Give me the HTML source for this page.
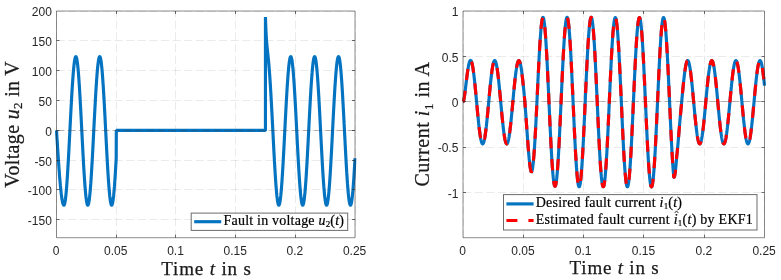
<!DOCTYPE html>
<html><head><meta charset="utf-8"><title>Fault plots</title>
<style>
html,body{margin:0;padding:0;background:#fff;}
body{width:781px;height:280px;overflow:hidden;}
svg{display:block;will-change:transform;}
text{fill:#262626;}
.tk{font-family:"Liberation Sans",sans-serif;font-size:12px;}
.lg{font-family:"Liberation Serif",serif;font-size:14px;fill:#000;stroke:#000;stroke-width:0.2px;}
.lb{font-family:"Liberation Serif",serif;font-size:19px;fill:#1a1a1a;stroke:#1a1a1a;stroke-width:0.25px;}
.yl{font-size:20px;}
.it{font-style:italic;}
.sub{font-size:9px;}
.sub2{font-size:13px;}
</style></head><body>
<svg width="781" height="280" viewBox="0 0 781 280">
<rect width="781" height="280" fill="#fff"/>
<path d="M56.50 237.70V11.00M116.50 237.70V11.00M175.50 237.70V11.00M235.50 237.70V11.00M295.50 237.70V11.00M355.50 237.70V11.00M56.50 219.50H355.00M56.50 189.50H355.00M56.50 160.50H355.00M56.50 130.50H355.00M56.50 100.50H355.00M56.50 70.50H355.00M56.50 40.50H355.00M56.50 11.50H355.00" stroke="#262626" stroke-opacity="0.095" stroke-width="1.0" stroke-dasharray="8.2 3.4" fill="none"/>
<clipPath id="cl"><rect x="54.9" y="9.4" width="301.7" height="229.89999999999998"/></clipPath>
<path d="M56.50 130.32L56.62 132.22L56.74 134.12L56.86 136.02L56.98 137.91L57.10 139.80L57.22 141.68L57.34 143.56L57.46 145.43L57.57 147.28L57.69 149.13L57.81 150.97L57.93 152.79L58.05 154.60L58.17 156.39L58.29 158.17L58.41 159.92L58.53 161.66L58.65 163.38L58.77 165.08L58.89 166.76L59.01 168.41L59.13 170.04L59.25 171.65L59.37 173.22L59.48 174.77L59.60 176.30L59.72 177.79L59.84 179.25L59.96 180.68L60.08 182.08L60.20 183.43L60.32 184.75L60.44 186.02L60.56 187.27L60.68 188.48L60.80 189.65L60.92 190.78L61.04 191.87L61.16 192.93L61.28 193.94L61.40 194.92L61.51 195.85L61.63 196.75L61.75 197.60L61.87 198.40L61.99 199.17L62.11 199.89L62.23 200.56L62.35 201.19L62.47 201.78L62.59 202.32L62.71 202.82L62.83 203.26L62.95 203.67L63.07 204.02L63.19 204.33L63.31 204.59L63.43 204.81L63.54 204.97L63.66 205.09L63.78 205.16L63.90 205.19L64.02 205.15L64.14 205.04L64.26 204.86L64.38 204.60L64.50 204.27L64.62 203.87L64.74 203.40L64.86 202.85L64.98 202.24L65.10 201.55L65.22 200.80L65.34 199.97L65.45 199.08L65.57 198.12L65.69 197.09L65.81 196.00L65.93 194.84L66.05 193.62L66.17 192.34L66.29 191.00L66.41 189.60L66.53 188.14L66.65 186.63L66.77 185.06L66.89 183.43L67.01 181.76L67.13 180.03L67.25 178.26L67.37 176.44L67.48 174.57L67.60 172.66L67.72 170.71L67.84 168.72L67.96 166.69L68.08 164.63L68.20 162.54L68.32 160.41L68.44 158.25L68.56 156.07L68.68 153.86L68.80 151.63L68.92 149.38L69.04 147.11L69.16 144.83L69.28 142.53L69.40 140.22L69.51 137.90L69.63 135.58L69.75 133.25L69.87 130.91L69.99 128.58L70.11 126.25L70.23 123.92L70.35 121.60L70.47 119.29L70.59 116.99L70.71 114.71L70.83 112.44L70.95 110.19L71.07 107.96L71.19 105.75L71.31 103.57L71.42 101.41L71.54 99.29L71.66 97.19L71.78 95.13L71.90 93.10L72.02 91.11L72.14 89.16L72.26 87.26L72.38 85.39L72.50 83.57L72.62 81.79L72.74 80.07L72.86 78.39L72.98 76.77L73.10 75.20L73.22 73.68L73.34 72.22L73.45 70.82L73.57 69.48L73.69 68.20L73.81 66.98L73.93 65.83L74.05 64.73L74.17 63.71L74.29 62.75L74.41 61.85L74.53 61.03L74.65 60.27L74.77 59.59L74.89 58.97L75.01 58.43L75.13 57.95L75.25 57.55L75.37 57.22L75.48 56.97L75.60 56.78L75.72 56.67L75.84 56.64L75.96 56.67L76.08 56.78L76.20 56.97L76.32 57.22L76.44 57.55L76.56 57.95L76.68 58.43L76.80 58.97L76.92 59.59L77.04 60.27L77.16 61.03L77.28 61.85L77.40 62.75L77.51 63.71L77.63 64.73L77.75 65.83L77.87 66.98L77.99 68.20L78.11 69.48L78.23 70.82L78.35 72.22L78.47 73.68L78.59 75.20L78.71 76.77L78.83 78.39L78.95 80.07L79.07 81.79L79.19 83.57L79.31 85.39L79.42 87.26L79.54 89.16L79.66 91.11L79.78 93.10L79.90 95.13L80.02 97.19L80.14 99.29L80.26 101.41L80.38 103.57L80.50 105.75L80.62 107.96L80.74 110.19L80.86 112.44L80.98 114.71L81.10 116.99L81.22 119.29L81.34 121.60L81.45 123.92L81.57 126.25L81.69 128.58L81.81 130.91L81.93 133.25L82.05 135.58L82.17 137.90L82.29 140.22L82.41 142.53L82.53 144.83L82.65 147.11L82.77 149.38L82.89 151.63L83.01 153.86L83.13 156.07L83.25 158.25L83.37 160.41L83.48 162.54L83.60 164.63L83.72 166.69L83.84 168.72L83.96 170.71L84.08 172.66L84.20 174.57L84.32 176.44L84.44 178.26L84.56 180.03L84.68 181.76L84.80 183.43L84.92 185.06L85.04 186.63L85.16 188.14L85.28 189.60L85.39 191.00L85.51 192.34L85.63 193.62L85.75 194.84L85.87 196.00L85.99 197.09L86.11 198.12L86.23 199.08L86.35 199.97L86.47 200.80L86.59 201.55L86.71 202.24L86.83 202.85L86.95 203.40L87.07 203.87L87.19 204.27L87.31 204.60L87.42 204.86L87.54 205.04L87.66 205.15L87.78 205.19L87.90 205.15L88.02 205.04L88.14 204.86L88.26 204.60L88.38 204.27L88.50 203.87L88.62 203.40L88.74 202.85L88.86 202.24L88.98 201.55L89.10 200.80L89.22 199.97L89.34 199.08L89.45 198.12L89.57 197.09L89.69 196.00L89.81 194.84L89.93 193.62L90.05 192.34L90.17 191.00L90.29 189.60L90.41 188.14L90.53 186.63L90.65 185.06L90.77 183.43L90.89 181.76L91.01 180.03L91.13 178.26L91.25 176.44L91.36 174.57L91.48 172.66L91.60 170.71L91.72 168.72L91.84 166.69L91.96 164.63L92.08 162.54L92.20 160.41L92.32 158.25L92.44 156.07L92.56 153.86L92.68 151.63L92.80 149.38L92.92 147.11L93.04 144.83L93.16 142.53L93.28 140.22L93.39 137.90L93.51 135.58L93.63 133.25L93.75 130.91L93.87 128.58L93.99 126.25L94.11 123.92L94.23 121.60L94.35 119.29L94.47 116.99L94.59 114.71L94.71 112.44L94.83 110.19L94.95 107.96L95.07 105.75L95.19 103.57L95.31 101.41L95.42 99.29L95.54 97.19L95.66 95.13L95.78 93.10L95.90 91.11L96.02 89.16L96.14 87.26L96.26 85.39L96.38 83.57L96.50 81.79L96.62 80.07L96.74 78.39L96.86 76.77L96.98 75.20L97.10 73.68L97.22 72.22L97.33 70.82L97.45 69.48L97.57 68.20L97.69 66.98L97.81 65.83L97.93 64.73L98.05 63.71L98.17 62.75L98.29 61.85L98.41 61.03L98.53 60.27L98.65 59.59L98.77 58.97L98.89 58.43L99.01 57.95L99.13 57.55L99.25 57.22L99.36 56.97L99.48 56.78L99.60 56.67L99.72 56.64L99.84 56.67L99.96 56.78L100.08 56.97L100.20 57.22L100.32 57.55L100.44 57.95L100.56 58.43L100.68 58.97L100.80 59.59L100.92 60.27L101.04 61.03L101.16 61.85L101.28 62.75L101.39 63.71L101.51 64.73L101.63 65.83L101.75 66.98L101.87 68.20L101.99 69.48L102.11 70.82L102.23 72.22L102.35 73.68L102.47 75.20L102.59 76.77L102.71 78.39L102.83 80.07L102.95 81.79L103.07 83.57L103.19 85.39L103.30 87.26L103.42 89.16L103.54 91.11L103.66 93.10L103.78 95.13L103.90 97.19L104.02 99.29L104.14 101.41L104.26 103.57L104.38 105.75L104.50 107.96L104.62 110.19L104.74 112.44L104.86 114.71L104.98 116.99L105.10 119.29L105.22 121.60L105.33 123.92L105.45 126.25L105.57 128.58L105.69 130.91L105.81 133.25L105.93 135.58L106.05 137.90L106.17 140.22L106.29 142.53L106.41 144.83L106.53 147.11L106.65 149.38L106.77 151.63L106.89 153.86L107.01 156.07L107.13 158.25L107.25 160.41L107.36 162.54L107.48 164.63L107.60 166.69L107.72 168.72L107.84 170.71L107.96 172.66L108.08 174.57L108.20 176.44L108.32 178.26L108.44 180.03L108.56 181.76L108.68 183.43L108.80 185.06L108.92 186.63L109.04 188.14L109.16 189.60L109.27 191.00L109.39 192.34L109.51 193.62L109.63 194.84L109.75 196.00L109.87 197.09L109.99 198.12L110.11 199.08L110.23 199.97L110.35 200.80L110.47 201.55L110.59 202.24L110.71 202.85L110.83 203.40L110.95 203.87L111.07 204.27L111.19 204.60L111.30 204.86L111.42 205.04L111.54 205.15L111.66 205.19L111.78 205.15L111.90 205.04L112.02 204.86L112.14 204.60L112.26 204.27L112.38 203.87L112.50 203.40L112.62 202.85L112.74 202.24L112.86 201.55L112.98 200.80L113.10 199.97L113.22 199.08L113.33 198.12L113.45 197.09L113.57 196.00L113.69 194.84L113.81 193.62L113.93 192.34L114.05 191.00L114.17 189.60L114.29 188.14L114.41 186.63L114.53 185.06L114.65 183.43L114.77 181.76L114.89 180.03L115.01 178.26L115.13 176.44L115.24 174.57L115.36 172.66L115.48 170.71L115.60 168.72L115.72 166.69L115.84 164.63L115.96 162.54L116.08 160.41L116.20 158.25L116.32 130.44L265.45 130.44L265.45 16.97L265.57 20.86L265.69 24.33L265.81 27.42L265.93 30.19L266.05 32.67L266.17 34.91L266.29 36.93L266.41 38.77L266.52 40.45L266.64 42.01L266.76 43.45L266.88 44.81L267.00 46.09L267.12 47.31L267.24 48.49L267.36 49.64L267.48 50.76L267.60 51.88L267.72 52.99L267.84 54.11L267.96 55.23L268.08 56.38L268.20 57.54L268.32 58.74L268.43 59.96L268.55 61.21L268.67 62.50L268.79 63.83L268.91 65.19L269.03 66.60L269.15 68.05L269.27 69.54L269.39 71.08L269.51 72.66L269.63 74.28L269.75 75.95L269.87 77.66L269.99 79.41L270.11 81.20L270.23 83.04L270.35 84.92L270.46 86.83L270.58 88.79L270.70 90.78L270.82 92.80L270.94 94.86L271.06 96.95L271.18 99.07L271.30 101.22L271.42 103.40L271.54 105.60L271.66 107.82L271.78 110.07L271.90 112.33L272.02 114.61L272.14 116.91L272.26 119.21L272.38 121.53L272.49 123.86L272.61 126.19L272.73 128.53L272.85 130.87L272.97 133.20L273.09 135.54L273.21 137.87L273.33 140.19L273.45 142.51L273.57 144.81L273.69 147.09L273.81 149.36L273.93 151.62L274.05 153.85L274.17 156.06L274.29 158.24L274.40 160.40L274.52 162.53L274.64 164.62L274.76 166.69L274.88 168.71L275.00 170.70L275.12 172.66L275.24 174.56L275.36 176.43L275.48 178.25L275.60 180.03L275.72 181.75L275.84 183.43L275.96 185.05L276.08 186.62L276.20 188.14L276.32 189.60L276.43 191.00L276.55 192.34L276.67 193.62L276.79 194.84L276.91 196.00L277.03 197.09L277.15 198.12L277.27 199.08L277.39 199.97L277.51 200.79L277.63 201.55L277.75 202.24L277.87 202.85L277.99 203.40L278.11 203.87L278.23 204.27L278.35 204.60L278.46 204.86L278.58 205.04L278.70 205.15L278.82 205.19L278.94 205.15L279.06 205.04L279.18 204.86L279.30 204.60L279.42 204.27L279.54 203.87L279.66 203.40L279.78 202.85L279.90 202.24L280.02 201.55L280.14 200.80L280.26 199.97L280.37 199.08L280.49 198.12L280.61 197.09L280.73 196.00L280.85 194.84L280.97 193.62L281.09 192.34L281.21 191.00L281.33 189.60L281.45 188.14L281.57 186.63L281.69 185.06L281.81 183.43L281.93 181.76L282.05 180.03L282.17 178.26L282.29 176.44L282.40 174.57L282.52 172.66L282.64 170.71L282.76 168.72L282.88 166.69L283.00 164.63L283.12 162.54L283.24 160.41L283.36 158.25L283.48 156.07L283.60 153.86L283.72 151.63L283.84 149.38L283.96 147.11L284.08 144.83L284.20 142.53L284.32 140.22L284.43 137.90L284.55 135.58L284.67 133.25L284.79 130.91L284.91 128.58L285.03 126.25L285.15 123.92L285.27 121.60L285.39 119.29L285.51 116.99L285.63 114.71L285.75 112.44L285.87 110.19L285.99 107.96L286.11 105.75L286.23 103.57L286.34 101.41L286.46 99.29L286.58 97.19L286.70 95.13L286.82 93.10L286.94 91.11L287.06 89.16L287.18 87.26L287.30 85.39L287.42 83.57L287.54 81.79L287.66 80.07L287.78 78.39L287.90 76.77L288.02 75.20L288.14 73.68L288.26 72.22L288.37 70.82L288.49 69.48L288.61 68.20L288.73 66.98L288.85 65.83L288.97 64.73L289.09 63.71L289.21 62.75L289.33 61.85L289.45 61.03L289.57 60.27L289.69 59.59L289.81 58.97L289.93 58.43L290.05 57.95L290.17 57.55L290.29 57.22L290.40 56.97L290.52 56.78L290.64 56.67L290.76 56.64L290.88 56.67L291.00 56.78L291.12 56.97L291.24 57.22L291.36 57.55L291.48 57.95L291.60 58.43L291.72 58.97L291.84 59.59L291.96 60.27L292.08 61.03L292.20 61.85L292.31 62.75L292.43 63.71L292.55 64.73L292.67 65.83L292.79 66.98L292.91 68.20L293.03 69.48L293.15 70.82L293.27 72.22L293.39 73.68L293.51 75.20L293.63 76.77L293.75 78.39L293.87 80.07L293.99 81.79L294.11 83.57L294.23 85.39L294.34 87.26L294.46 89.16L294.58 91.11L294.70 93.10L294.82 95.13L294.94 97.19L295.06 99.29L295.18 101.41L295.30 103.57L295.42 105.75L295.54 107.96L295.66 110.19L295.78 112.44L295.90 114.71L296.02 116.99L296.14 119.29L296.26 121.60L296.37 123.92L296.49 126.25L296.61 128.58L296.73 130.91L296.85 133.25L296.97 135.58L297.09 137.90L297.21 140.22L297.33 142.53L297.45 144.83L297.57 147.11L297.69 149.38L297.81 151.63L297.93 153.86L298.05 156.07L298.17 158.25L298.28 160.41L298.40 162.54L298.52 164.63L298.64 166.69L298.76 168.72L298.88 170.71L299.00 172.66L299.12 174.57L299.24 176.44L299.36 178.26L299.48 180.03L299.60 181.76L299.72 183.43L299.84 185.06L299.96 186.63L300.08 188.14L300.20 189.60L300.31 191.00L300.43 192.34L300.55 193.62L300.67 194.84L300.79 196.00L300.91 197.09L301.03 198.12L301.15 199.08L301.27 199.97L301.39 200.80L301.51 201.55L301.63 202.24L301.75 202.85L301.87 203.40L301.99 203.87L302.11 204.27L302.23 204.60L302.34 204.86L302.46 205.04L302.58 205.15L302.70 205.19L302.82 205.15L302.94 205.04L303.06 204.86L303.18 204.60L303.30 204.27L303.42 203.87L303.54 203.40L303.66 202.85L303.78 202.24L303.90 201.55L304.02 200.80L304.14 199.97L304.25 199.08L304.37 198.12L304.49 197.09L304.61 196.00L304.73 194.84L304.85 193.62L304.97 192.34L305.09 191.00L305.21 189.60L305.33 188.14L305.45 186.63L305.57 185.06L305.69 183.43L305.81 181.76L305.93 180.03L306.05 178.26L306.17 176.44L306.28 174.57L306.40 172.66L306.52 170.71L306.64 168.72L306.76 166.69L306.88 164.63L307.00 162.54L307.12 160.41L307.24 158.25L307.36 156.07L307.48 153.86L307.60 151.63L307.72 149.38L307.84 147.11L307.96 144.83L308.08 142.53L308.20 140.22L308.31 137.90L308.43 135.58L308.55 133.25L308.67 130.91L308.79 128.58L308.91 126.25L309.03 123.92L309.15 121.60L309.27 119.29L309.39 116.99L309.51 114.71L309.63 112.44L309.75 110.19L309.87 107.96L309.99 105.75L310.11 103.57L310.22 101.41L310.34 99.29L310.46 97.19L310.58 95.13L310.70 93.10L310.82 91.11L310.94 89.16L311.06 87.26L311.18 85.39L311.30 83.57L311.42 81.79L311.54 80.07L311.66 78.39L311.78 76.77L311.90 75.20L312.02 73.68L312.14 72.22L312.25 70.82L312.37 69.48L312.49 68.20L312.61 66.98L312.73 65.83L312.85 64.73L312.97 63.71L313.09 62.75L313.21 61.85L313.33 61.03L313.45 60.27L313.57 59.59L313.69 58.97L313.81 58.43L313.93 57.95L314.05 57.55L314.17 57.22L314.28 56.97L314.40 56.78L314.52 56.67L314.64 56.64L314.76 56.67L314.88 56.78L315.00 56.97L315.12 57.22L315.24 57.55L315.36 57.95L315.48 58.43L315.60 58.97L315.72 59.59L315.84 60.27L315.96 61.03L316.08 61.85L316.19 62.75L316.31 63.71L316.43 64.73L316.55 65.83L316.67 66.98L316.79 68.20L316.91 69.48L317.03 70.82L317.15 72.22L317.27 73.68L317.39 75.20L317.51 76.77L317.63 78.39L317.75 80.07L317.87 81.79L317.99 83.57L318.11 85.39L318.22 87.26L318.34 89.16L318.46 91.11L318.58 93.10L318.70 95.13L318.82 97.19L318.94 99.29L319.06 101.41L319.18 103.57L319.30 105.75L319.42 107.96L319.54 110.19L319.66 112.44L319.78 114.71L319.90 116.99L320.02 119.29L320.14 121.60L320.25 123.92L320.37 126.25L320.49 128.58L320.61 130.91L320.73 133.25L320.85 135.58L320.97 137.90L321.09 140.22L321.21 142.53L321.33 144.83L321.45 147.11L321.57 149.38L321.69 151.63L321.81 153.86L321.93 156.07L322.05 158.25L322.16 160.41L322.28 162.54L322.40 164.63L322.52 166.69L322.64 168.72L322.76 170.71L322.88 172.66L323.00 174.57L323.12 176.44L323.24 178.26L323.36 180.03L323.48 181.76L323.60 183.43L323.72 185.06L323.84 186.63L323.96 188.14L324.08 189.60L324.19 191.00L324.31 192.34L324.43 193.62L324.55 194.84L324.67 196.00L324.79 197.09L324.91 198.12L325.03 199.08L325.15 199.97L325.27 200.80L325.39 201.55L325.51 202.24L325.63 202.85L325.75 203.40L325.87 203.87L325.99 204.27L326.11 204.60L326.22 204.86L326.34 205.04L326.46 205.15L326.58 205.19L326.70 205.15L326.82 205.04L326.94 204.86L327.06 204.60L327.18 204.27L327.30 203.87L327.42 203.40L327.54 202.85L327.66 202.24L327.78 201.55L327.90 200.80L328.02 199.97L328.13 199.08L328.25 198.12L328.37 197.09L328.49 196.00L328.61 194.84L328.73 193.62L328.85 192.34L328.97 191.00L329.09 189.60L329.21 188.14L329.33 186.63L329.45 185.06L329.57 183.43L329.69 181.76L329.81 180.03L329.93 178.26L330.05 176.44L330.16 174.57L330.28 172.66L330.40 170.71L330.52 168.72L330.64 166.69L330.76 164.63L330.88 162.54L331.00 160.41L331.12 158.25L331.24 156.07L331.36 153.86L331.48 151.63L331.60 149.38L331.72 147.11L331.84 144.83L331.96 142.53L332.08 140.22L332.19 137.90L332.31 135.58L332.43 133.25L332.55 130.91L332.67 128.58L332.79 126.25L332.91 123.92L333.03 121.60L333.15 119.29L333.27 116.99L333.39 114.71L333.51 112.44L333.63 110.19L333.75 107.96L333.87 105.75L333.99 103.57L334.10 101.41L334.22 99.29L334.34 97.19L334.46 95.13L334.58 93.10L334.70 91.11L334.82 89.16L334.94 87.26L335.06 85.39L335.18 83.57L335.30 81.79L335.42 80.07L335.54 78.39L335.66 76.77L335.78 75.20L335.90 73.68L336.02 72.22L336.13 70.82L336.25 69.48L336.37 68.20L336.49 66.98L336.61 65.83L336.73 64.73L336.85 63.71L336.97 62.75L337.09 61.85L337.21 61.03L337.33 60.27L337.45 59.59L337.57 58.97L337.69 58.43L337.81 57.95L337.93 57.55L338.05 57.22L338.16 56.97L338.28 56.78L338.40 56.67L338.52 56.64L338.64 56.67L338.76 56.78L338.88 56.97L339.00 57.22L339.12 57.55L339.24 57.95L339.36 58.43L339.48 58.97L339.60 59.59L339.72 60.27L339.84 61.03L339.96 61.85L340.07 62.75L340.19 63.71L340.31 64.73L340.43 65.83L340.55 66.98L340.67 68.20L340.79 69.48L340.91 70.82L341.03 72.22L341.15 73.68L341.27 75.20L341.39 76.77L341.51 78.39L341.63 80.07L341.75 81.79L341.87 83.57L341.99 85.39L342.10 87.26L342.22 89.16L342.34 91.11L342.46 93.10L342.58 95.13L342.70 97.19L342.82 99.29L342.94 101.41L343.06 103.57L343.18 105.75L343.30 107.96L343.42 110.19L343.54 112.44L343.66 114.71L343.78 116.99L343.90 119.29L344.02 121.60L344.13 123.92L344.25 126.25L344.37 128.58L344.49 130.91L344.61 133.25L344.73 135.58L344.85 137.90L344.97 140.22L345.09 142.53L345.21 144.83L345.33 147.11L345.45 149.38L345.57 151.63L345.69 153.86L345.81 156.07L345.93 158.25L346.04 160.41L346.16 162.54L346.28 164.63L346.40 166.69L346.52 168.72L346.64 170.71L346.76 172.66L346.88 174.57L347.00 176.44L347.12 178.26L347.24 180.03L347.36 181.76L347.48 183.43L347.60 185.06L347.72 186.63L347.84 188.14L347.96 189.60L348.07 191.00L348.19 192.34L348.31 193.62L348.43 194.84L348.55 196.00L348.67 197.09L348.79 198.12L348.91 199.08L349.03 199.97L349.15 200.80L349.27 201.55L349.39 202.24L349.51 202.85L349.63 203.40L349.75 203.87L349.87 204.27L349.99 204.60L350.10 204.86L350.22 205.04L350.34 205.15L350.46 205.19L350.58 205.15L350.70 205.04L350.82 204.86L350.94 204.60L351.06 204.27L351.18 203.87L351.30 203.40L351.42 202.85L351.54 202.24L351.66 201.55L351.78 200.80L351.90 199.97L352.01 199.08L352.13 198.12L352.25 197.09L352.37 196.00L352.49 194.84L352.61 193.62L352.73 192.34L352.85 191.00L352.97 189.60L353.09 188.14L353.21 186.63L353.33 185.06L353.45 183.43L353.57 181.76L353.69 180.03L353.81 178.26L353.93 176.44L354.04 174.57L354.16 172.66L354.28 170.71L354.40 168.72L354.52 166.69L354.64 164.63L354.76 162.54L354.88 160.41L355.00 158.25" stroke="#0473C1" stroke-width="3.15" fill="none" stroke-linejoin="bevel" clip-path="url(#cl)"/>
<path d="M56.50 130.50H355.00" stroke="#4a3a30" stroke-opacity="0.34" stroke-width="1" stroke-dasharray="7.8 3.4" fill="none"/>
<path d="M56.50 11.00H355.00V237.70H56.50Z" stroke="#262626" stroke-opacity="0.52" stroke-width="1.0" fill="none"/>
<path d="M116.50 237.70v-3.0M116.50 11.00v3.0M175.50 237.70v-3.0M175.50 11.00v3.0M235.50 237.70v-3.0M235.50 11.00v3.0M295.50 237.70v-3.0M295.50 11.00v3.0M56.50 219.50h3.0M355.00 219.50h-3.0M56.50 189.50h3.0M355.00 189.50h-3.0M56.50 160.50h3.0M355.00 160.50h-3.0M56.50 130.50h3.0M355.00 130.50h-3.0M56.50 100.50h3.0M355.00 100.50h-3.0M56.50 70.50h3.0M355.00 70.50h-3.0M56.50 40.50h3.0M355.00 40.50h-3.0" stroke="#262626" stroke-opacity="0.68" stroke-width="1" fill="none"/>
<text x="56.10" y="254.80" text-anchor="middle" class="tk">0</text>
<text x="115.80" y="254.80" text-anchor="middle" class="tk">0.05</text>
<text x="175.50" y="254.80" text-anchor="middle" class="tk">0.1</text>
<text x="235.20" y="254.80" text-anchor="middle" class="tk">0.15</text>
<text x="294.90" y="254.80" text-anchor="middle" class="tk">0.2</text>
<text x="354.60" y="254.80" text-anchor="middle" class="tk">0.25</text>
<text x="51.90" y="225.20" text-anchor="end" class="tk">-150</text>
<text x="51.90" y="195.37" text-anchor="end" class="tk">-100</text>
<text x="51.90" y="165.54" text-anchor="end" class="tk">-50</text>
<text x="51.90" y="135.72" text-anchor="end" class="tk">0</text>
<text x="51.90" y="105.89" text-anchor="end" class="tk">50</text>
<text x="51.90" y="76.06" text-anchor="end" class="tk">100</text>
<text x="51.90" y="46.23" text-anchor="end" class="tk">150</text>
<text x="51.90" y="16.40" text-anchor="end" class="tk">200</text>
<rect x="191.2" y="213.1" width="156.5" height="17.30000000000001" fill="#fff" stroke="#262626" stroke-opacity="0.68" stroke-width="1.0"/>
<path d="M194.2 221.7H221.2" stroke="#0473C1" stroke-width="3.15"/>
<text x="223.6" y="225.2" class="lg" textLength="120.4" lengthAdjust="spacing">Fault in voltage <tspan class="it">u</tspan><tspan class="sub" dy="2.2">2</tspan><tspan dy="-2.2">(</tspan><tspan class="it">t</tspan>)</text>
<text x="161.3" y="274.8" class="lb" textLength="89.6" lengthAdjust="spacing">Time <tspan class="it">t</tspan> in s</text>
<text transform="translate(18.6 187.7) rotate(-90)" class="lb yl" textLength="126.5" lengthAdjust="spacing">Voltage <tspan class="it">u</tspan><tspan class="sub2" dy="3.2">2</tspan><tspan dy="-3.2"> in V</tspan></text>
<path d="M463.50 237.70V11.00M523.50 237.70V11.00M583.50 237.70V11.00M643.50 237.70V11.00M704.50 237.70V11.00M764.50 237.70V11.00M463.00 192.50H764.50M463.00 147.50H764.50M463.00 101.50H764.50M463.00 56.50H764.50M463.00 11.50H764.50" stroke="#262626" stroke-opacity="0.095" stroke-width="1.0" stroke-dasharray="8.2 3.4" fill="none"/>
<clipPath id="cr"><rect x="461.4" y="9.4" width="304.7" height="229.89999999999998"/></clipPath>
<path d="M463.00 101.76L463.12 101.71L463.24 101.57L463.36 101.34L463.48 101.02L463.60 100.63L463.72 100.17L463.84 99.65L463.96 99.06L464.09 98.42L464.21 97.73L464.33 97.00L464.45 96.22L464.57 95.41L464.69 94.56L464.81 93.68L464.93 92.78L465.05 91.85L465.17 90.90L465.29 89.94L465.41 88.96L465.53 87.97L465.65 86.97L465.77 85.96L465.89 84.95L466.01 83.94L466.14 82.93L466.26 81.93L466.38 80.93L466.50 79.93L466.62 78.95L466.74 77.97L466.86 77.01L466.98 76.07L467.10 75.14L467.22 74.23L467.34 73.34L467.46 72.46L467.58 71.61L467.70 70.79L467.82 69.99L467.94 69.21L468.07 68.46L468.19 67.75L468.31 67.06L468.43 66.40L468.55 65.77L468.67 65.17L468.79 64.61L468.91 64.08L469.03 63.59L469.15 63.12L469.27 62.68L469.39 62.29L469.51 61.93L469.63 61.60L469.75 61.32L469.87 61.07L469.99 60.87L470.12 60.70L470.24 60.57L470.36 60.49L470.48 60.44L470.60 60.43L470.72 60.46L470.84 60.54L470.96 60.65L471.08 60.80L471.20 61.00L471.32 61.23L471.44 61.50L471.56 61.81L471.68 62.17L471.80 62.56L471.92 62.99L472.05 63.45L472.17 63.96L472.29 64.50L472.41 65.08L472.53 65.70L472.65 66.35L472.77 67.03L472.89 67.76L473.01 68.51L473.13 69.30L473.25 70.12L473.37 70.97L473.49 71.85L473.61 72.76L473.73 73.71L473.85 74.67L473.97 75.67L474.10 76.69L474.22 77.74L474.34 78.81L474.46 79.90L474.58 81.02L474.70 82.16L474.82 83.31L474.94 84.49L475.06 85.68L475.18 86.89L475.30 88.11L475.42 89.35L475.54 90.60L475.66 91.86L475.78 93.14L475.90 94.42L476.02 95.71L476.15 97.00L476.27 98.30L476.39 99.61L476.51 100.91L476.63 102.22L476.75 103.53L476.87 104.83L476.99 106.14L477.11 107.44L477.23 108.73L477.35 110.02L477.47 111.30L477.59 112.57L477.71 113.83L477.83 115.08L477.95 116.32L478.07 117.54L478.20 118.75L478.32 119.94L478.44 121.12L478.56 122.27L478.68 123.41L478.80 124.53L478.92 125.62L479.04 126.69L479.16 127.73L479.28 128.75L479.40 129.75L479.52 130.72L479.64 131.65L479.76 132.56L479.88 133.44L480.00 134.29L480.13 135.11L480.25 135.90L480.37 136.65L480.49 137.37L480.61 138.05L480.73 138.70L480.85 139.31L480.97 139.88L481.09 140.42L481.21 140.92L481.33 141.39L481.45 141.81L481.57 142.19L481.69 142.54L481.81 142.84L481.93 143.11L482.05 143.33L482.18 143.52L482.30 143.66L482.42 143.76L482.54 143.83L482.66 143.85L482.78 143.83L482.90 143.76L483.02 143.66L483.14 143.52L483.26 143.33L483.38 143.11L483.50 142.84L483.62 142.54L483.74 142.19L483.86 141.81L483.98 141.39L484.11 140.92L484.23 140.42L484.35 139.88L484.47 139.31L484.59 138.70L484.71 138.05L484.83 137.37L484.95 136.65L485.07 135.90L485.19 135.11L485.31 134.29L485.43 133.45L485.55 132.57L485.67 131.66L485.79 130.72L485.91 129.75L486.03 128.76L486.16 127.73L486.28 126.69L486.40 125.62L486.52 124.53L486.64 123.41L486.76 122.28L486.88 121.12L487.00 119.95L487.12 118.75L487.24 117.55L487.36 116.32L487.48 115.09L487.60 113.84L487.72 112.58L487.84 111.30L487.96 110.02L488.08 108.74L488.21 107.44L488.33 106.14L488.45 104.84L488.57 103.53L488.69 102.22L488.81 100.92L488.93 99.61L489.05 98.31L489.17 97.01L489.29 95.71L489.41 94.42L489.53 93.14L489.65 91.87L489.77 90.61L489.89 89.36L490.01 88.13L490.13 86.90L490.26 85.69L490.38 84.50L490.50 83.33L490.62 82.17L490.74 81.04L490.86 79.92L490.98 78.83L491.10 77.76L491.22 76.71L491.34 75.69L491.46 74.70L491.58 73.73L491.70 72.79L491.82 71.88L491.94 71.00L492.06 70.15L492.19 69.34L492.31 68.55L492.43 67.80L492.55 67.08L492.67 66.40L492.79 65.75L492.91 65.14L493.03 64.56L493.15 64.03L493.27 63.52L493.39 63.06L493.51 62.64L493.63 62.25L493.75 61.91L493.87 61.60L493.99 61.34L494.11 61.11L494.24 60.93L494.36 60.79L494.48 60.68L494.60 60.62L494.72 60.60L494.84 60.62L494.96 60.68L495.08 60.79L495.20 60.93L495.32 61.11L495.44 61.34L495.56 61.60L495.68 61.91L495.80 62.25L495.92 62.64L496.04 63.06L496.17 63.52L496.29 64.03L496.41 64.56L496.53 65.14L496.65 65.75L496.77 66.40L496.89 67.08L497.01 67.80L497.13 68.55L497.25 69.34L497.37 70.15L497.49 71.00L497.61 71.88L497.73 72.79L497.85 73.73L497.97 74.70L498.09 75.69L498.22 76.71L498.34 77.76L498.46 78.83L498.58 79.92L498.70 81.04L498.82 82.17L498.94 83.33L499.06 84.50L499.18 85.69L499.30 86.90L499.42 88.13L499.54 89.36L499.66 90.61L499.78 91.87L499.90 93.14L500.02 94.42L500.14 95.71L500.27 97.01L500.39 98.31L500.51 99.61L500.63 100.92L500.75 102.22L500.87 103.53L500.99 104.84L501.11 106.14L501.23 107.44L501.35 108.74L501.47 110.02L501.59 111.30L501.71 112.58L501.83 113.84L501.95 115.09L502.07 116.32L502.19 117.55L502.32 118.75L502.44 119.95L502.56 121.12L502.68 122.28L502.80 123.41L502.92 124.53L503.04 125.62L503.16 126.69L503.28 127.73L503.40 128.76L503.52 129.75L503.64 130.72L503.76 131.66L503.88 132.57L504.00 133.45L504.12 134.29L504.25 135.11L504.37 135.90L504.49 136.65L504.61 137.37L504.73 138.05L504.85 138.70L504.97 139.31L505.09 139.88L505.21 140.42L505.33 140.92L505.45 141.39L505.57 141.81L505.69 142.19L505.81 142.54L505.93 142.84L506.05 143.11L506.17 143.33L506.30 143.52L506.42 143.66L506.54 143.76L506.66 143.83L506.78 143.85L506.90 143.83L507.02 143.76L507.14 143.66L507.26 143.52L507.38 143.33L507.50 143.11L507.62 142.84L507.74 142.54L507.86 142.19L507.98 141.81L508.10 141.39L508.23 140.92L508.35 140.42L508.47 139.88L508.59 139.31L508.71 138.70L508.83 138.05L508.95 137.37L509.07 136.65L509.19 135.90L509.31 135.11L509.43 134.29L509.55 133.45L509.67 132.57L509.79 131.66L509.91 130.72L510.03 129.75L510.15 128.76L510.28 127.73L510.40 126.69L510.52 125.62L510.64 124.53L510.76 123.41L510.88 122.28L511.00 121.12L511.12 119.95L511.24 118.75L511.36 117.55L511.48 116.32L511.60 115.09L511.72 113.84L511.84 112.58L511.96 111.30L512.08 110.02L512.20 108.74L512.33 107.44L512.45 106.14L512.57 104.84L512.69 103.53L512.81 102.22L512.93 100.92L513.05 99.61L513.17 98.31L513.29 97.01L513.41 95.71L513.53 94.42L513.65 93.14L513.77 91.87L513.89 90.61L514.01 89.36L514.13 88.13L514.25 86.90L514.38 85.69L514.50 84.50L514.62 83.33L514.74 82.17L514.86 81.04L514.98 79.92L515.10 78.83L515.22 77.76L515.34 76.71L515.46 75.69L515.58 74.70L515.70 73.73L515.82 72.79L515.94 71.88L516.06 71.00L516.18 70.15L516.31 69.34L516.43 68.55L516.55 67.80L516.67 67.08L516.79 66.40L516.91 65.75L517.03 65.14L517.15 64.56L517.27 64.03L517.39 63.52L517.51 63.06L517.63 62.64L517.75 62.25L517.87 61.91L517.99 61.60L518.11 61.34L518.23 61.11L518.36 60.93L518.48 60.79L518.60 60.68L518.72 60.62L518.84 60.60L518.96 60.62L519.08 60.68L519.20 60.79L519.32 60.93L519.44 61.11L519.56 61.34L519.68 61.60L519.80 61.91L519.92 62.25L520.04 62.64L520.16 63.06L520.28 63.52L520.41 64.03L520.53 64.56L520.65 65.14L520.77 65.75L520.89 66.40L521.01 67.08L521.13 67.80L521.25 68.55L521.37 69.34L521.49 70.15L521.61 71.00L521.73 71.88L521.85 72.79L521.97 73.73L522.09 74.70L522.21 75.69L522.34 76.71L522.46 77.76L522.58 78.83L522.70 79.92L522.82 81.04L522.94 82.17L523.06 83.33L523.18 84.50L523.30 85.69L523.42 86.74L523.54 87.83L523.66 88.96L523.78 90.13L523.90 91.34L524.02 92.58L524.14 93.86L524.26 95.17L524.39 96.52L524.51 97.90L524.63 99.31L524.75 100.75L524.87 102.22L524.99 103.72L525.11 105.24L525.23 106.79L525.35 108.36L525.47 109.95L525.59 111.56L525.71 113.18L525.83 114.82L525.95 116.48L526.07 118.14L526.19 119.82L526.32 121.51L526.44 123.20L526.56 124.89L526.68 126.59L526.80 128.29L526.92 129.98L527.04 131.68L527.16 133.36L527.28 135.04L527.40 136.70L527.52 138.36L527.64 140.00L527.76 141.62L527.88 143.22L528.00 144.80L528.12 146.36L528.24 147.89L528.37 149.40L528.49 150.87L528.61 152.31L528.73 153.72L528.85 155.09L528.97 156.42L529.09 157.72L529.21 158.97L529.33 160.17L529.45 161.33L529.57 162.44L529.69 163.50L529.81 164.51L529.93 165.47L530.05 166.37L530.17 167.21L530.29 167.99L530.42 168.71L530.54 169.37L530.66 169.97L530.78 170.50L530.90 170.96L531.02 171.36L531.14 171.68L531.26 171.94L531.38 172.13L531.50 172.03L531.62 171.85L531.74 171.61L531.86 171.30L531.98 170.91L532.10 170.45L532.22 169.93L532.35 169.33L532.47 168.65L532.59 167.91L532.71 167.10L532.83 166.22L532.95 165.26L533.07 164.24L533.19 163.15L533.31 161.99L533.43 160.77L533.55 159.48L533.67 158.12L533.79 156.70L533.91 155.22L534.03 153.68L534.15 152.07L534.27 150.41L534.40 148.69L534.52 146.91L534.64 145.07L534.76 143.19L534.88 141.25L535.00 139.26L535.12 137.22L535.24 135.14L535.36 133.01L535.48 130.84L535.60 128.63L535.72 126.38L535.84 124.09L535.96 121.77L536.08 119.41L536.20 117.03L536.32 114.62L536.45 112.18L536.57 109.72L536.69 107.24L536.81 104.74L536.93 102.22L537.05 99.70L537.17 97.16L537.29 94.61L537.41 92.05L537.53 89.50L537.65 86.94L537.77 84.38L537.89 81.86L538.01 79.36L538.13 76.88L538.25 74.41L538.38 71.97L538.50 69.56L538.62 67.17L538.74 64.81L538.86 62.49L538.98 60.20L539.10 57.94L539.22 55.73L539.34 53.56L539.46 51.43L539.58 49.35L539.70 47.32L539.82 45.34L539.94 43.41L540.06 41.53L540.18 39.71L540.30 37.95L540.43 36.25L540.55 34.62L540.67 33.04L540.79 31.54L540.91 30.10L541.03 28.72L541.15 27.42L541.27 26.19L541.39 25.04L541.51 23.95L541.63 22.95L541.75 22.01L541.87 21.16L541.99 20.39L542.11 19.69L542.23 19.08L542.35 18.54L542.48 18.09L542.60 17.72L542.72 17.52L542.84 17.41L542.96 17.38L543.08 17.43L543.20 17.56L543.32 17.78L543.44 18.09L543.56 18.47L543.68 18.94L543.80 19.49L543.92 20.12L544.04 20.83L544.16 21.62L544.28 22.50L544.40 23.45L544.53 24.47L544.65 25.58L544.77 26.76L544.89 28.01L545.01 29.34L545.13 30.74L545.25 32.20L545.37 33.74L545.49 35.35L545.61 37.02L545.73 38.75L545.85 40.55L545.97 42.40L546.09 44.32L546.21 46.29L546.33 48.32L546.46 50.40L546.58 52.53L546.70 54.71L546.82 56.93L546.94 59.20L547.06 61.51L547.18 63.86L547.30 66.25L547.42 68.67L547.54 71.13L547.66 73.61L547.78 76.13L547.90 78.67L548.02 81.23L548.14 83.81L548.26 86.41L548.38 89.02L548.51 91.65L548.63 94.28L548.75 96.93L548.87 99.57L548.99 102.22L549.11 104.87L549.23 107.52L549.35 110.16L549.47 112.79L549.59 115.41L549.71 118.02L549.83 120.61L549.95 123.19L550.07 125.74L550.19 128.27L550.31 130.77L550.44 133.25L550.56 135.69L550.68 138.10L550.80 140.48L550.92 142.81L551.04 145.11L551.16 147.36L551.28 149.57L551.40 151.73L551.52 153.85L551.64 155.91L551.76 157.92L551.88 159.87L552.00 161.76L552.12 163.60L552.24 165.38L552.36 167.09L552.49 168.74L552.61 170.32L552.73 171.84L552.85 173.28L552.97 174.66L553.09 175.97L553.21 177.20L553.33 178.36L553.45 179.44L553.57 180.44L553.69 181.37L553.81 182.22L553.93 183.00L554.05 183.69L554.17 184.30L554.29 184.83L554.41 185.28L554.54 185.64L554.66 185.93L554.78 186.13L554.90 186.25L555.02 186.28L555.14 186.25L555.26 186.14L555.38 185.94L555.50 185.65L555.62 185.29L555.74 184.85L555.86 184.32L555.98 183.71L556.10 183.02L556.22 182.25L556.34 181.40L556.47 180.48L556.59 179.47L556.71 178.39L556.83 177.23L556.95 176.00L557.07 174.70L557.19 173.33L557.31 171.88L557.43 170.37L557.55 168.78L557.67 167.14L557.79 165.42L557.91 163.65L558.03 161.81L558.15 159.92L558.27 157.96L558.39 155.96L558.52 153.89L558.64 151.78L558.76 149.62L558.88 147.41L559.00 145.16L559.12 142.86L559.24 140.52L559.36 138.14L559.48 135.73L559.60 133.29L559.72 130.81L559.84 128.30L559.96 125.77L560.08 123.22L560.20 120.64L560.32 118.04L560.44 115.43L560.57 112.81L560.69 110.17L560.81 107.53L560.93 104.88L561.05 102.22L561.17 99.57L561.29 96.92L561.41 94.27L561.53 91.63L561.65 89.00L561.77 86.38L561.89 83.78L562.01 81.20L562.13 78.63L562.25 76.09L562.37 73.58L562.50 71.09L562.62 68.63L562.74 66.20L562.86 63.81L562.98 61.46L563.10 59.15L563.22 56.88L563.34 54.65L563.46 52.47L563.58 50.34L563.70 48.26L563.82 46.23L563.94 44.25L564.06 42.34L564.18 40.48L564.30 38.68L564.42 36.95L564.55 35.28L564.67 33.67L564.79 32.14L564.91 30.67L565.03 29.27L565.15 27.94L565.27 26.69L565.39 25.51L565.51 24.41L565.63 23.38L565.75 22.43L565.87 21.56L565.99 20.77L566.11 20.05L566.23 19.42L566.35 18.88L566.47 18.41L566.60 18.03L566.72 17.72L566.84 17.52L566.96 17.39L567.08 17.36L567.20 17.40L567.32 17.53L567.44 17.74L567.56 18.04L567.68 18.41L567.80 18.88L567.92 19.42L568.04 20.04L568.16 20.75L568.28 21.54L568.40 22.40L568.52 23.35L568.65 24.37L568.77 25.47L568.89 26.64L569.01 27.89L569.13 29.21L569.25 30.61L569.37 32.07L569.49 33.61L569.61 35.21L569.73 36.88L569.85 38.61L569.97 40.41L570.09 42.26L570.21 44.18L570.33 46.15L570.45 48.18L570.58 50.26L570.70 52.39L570.82 54.57L570.94 56.80L571.06 59.07L571.18 61.38L571.30 63.74L571.42 66.13L571.54 68.56L571.66 71.02L571.78 73.51L571.90 76.03L572.02 78.58L572.14 81.15L572.26 83.74L572.38 86.34L572.50 88.97L572.63 91.60L572.75 94.25L572.87 96.90L572.99 99.56L573.11 102.22L573.23 104.89L573.35 107.54L573.47 110.20L573.59 112.84L573.71 115.48L573.83 118.10L573.95 120.70L574.07 123.29L574.19 125.86L574.31 128.40L574.43 130.92L574.55 133.40L574.68 135.86L574.80 138.29L574.92 140.67L575.04 143.02L575.16 145.33L575.28 147.60L575.40 149.82L575.52 152.00L575.64 154.12L575.76 156.20L575.88 158.22L576.00 160.18L576.12 162.09L576.24 163.94L576.36 165.73L576.48 167.45L576.61 169.11L576.73 170.71L576.85 172.23L576.97 173.69L577.09 175.08L577.21 176.39L577.33 177.64L577.45 178.80L577.57 179.90L577.69 180.91L577.81 181.85L577.93 182.71L578.05 183.48L578.17 184.18L578.29 184.80L578.41 185.34L578.53 185.79L578.66 186.16L578.78 186.45L578.90 186.66L579.02 186.79L579.14 186.84L579.26 186.80L579.38 186.68L579.50 186.47L579.62 186.18L579.74 185.81L579.86 185.35L579.98 184.82L580.10 184.20L580.22 183.50L580.34 182.72L580.46 181.86L580.59 180.93L580.71 179.91L580.83 178.82L580.95 177.65L581.07 176.41L581.19 175.09L581.31 173.71L581.43 172.25L581.55 170.72L581.67 169.13L581.79 167.47L581.91 165.74L582.03 163.95L582.15 162.10L582.27 160.19L582.39 158.23L582.51 156.21L582.64 154.13L582.76 152.01L582.88 149.83L583.00 147.61L583.12 145.34L583.24 143.03L583.36 140.68L583.48 138.29L583.60 135.87L583.72 133.41L583.84 130.92L583.96 128.40L584.08 125.86L584.20 123.29L584.32 120.71L584.44 118.10L584.56 115.48L584.69 112.84L584.81 110.20L584.93 107.55L585.05 104.89L585.17 102.22L585.29 99.56L585.41 96.90L585.53 94.25L585.65 91.60L585.77 88.96L585.89 86.34L586.01 83.73L586.13 81.14L586.25 78.57L586.37 76.03L586.49 73.51L586.62 71.01L586.74 68.55L586.86 66.12L586.98 63.73L587.10 61.38L587.22 59.06L587.34 56.79L587.46 54.56L587.58 52.38L587.70 50.25L587.82 48.17L587.94 46.14L588.06 44.16L588.18 42.25L588.30 40.39L588.42 38.60L588.54 36.87L588.67 35.20L588.79 33.59L588.91 32.06L589.03 30.59L589.15 29.20L589.27 27.88L589.39 26.63L589.51 25.45L589.63 24.35L589.75 23.33L589.87 22.39L589.99 21.52L590.11 20.73L590.23 20.03L590.35 19.40L590.47 18.86L590.59 18.40L590.72 18.02L590.84 17.72L590.96 17.52L591.08 17.39L591.20 17.36L591.32 17.40L591.44 17.53L591.56 17.74L591.68 18.04L591.80 18.41L591.92 18.88L592.04 19.42L592.16 20.04L592.28 20.75L592.40 21.54L592.52 22.40L592.64 23.35L592.77 24.37L592.89 25.47L593.01 26.64L593.13 27.89L593.25 29.21L593.37 30.61L593.49 32.07L593.61 33.61L593.73 35.21L593.85 36.88L593.97 38.61L594.09 40.41L594.21 42.26L594.33 44.18L594.45 46.15L594.57 48.18L594.70 50.26L594.82 52.39L594.94 54.57L595.06 56.80L595.18 59.07L595.30 61.38L595.42 63.74L595.54 66.13L595.66 68.56L595.78 71.02L595.90 73.51L596.02 76.03L596.14 78.58L596.26 81.15L596.38 83.74L596.50 86.34L596.62 88.97L596.75 91.60L596.87 94.25L596.99 96.90L597.11 99.56L597.23 102.22L597.35 104.89L597.47 107.54L597.59 110.20L597.71 112.84L597.83 115.48L597.95 118.10L598.07 120.70L598.19 123.29L598.31 125.86L598.43 128.40L598.55 130.92L598.67 133.40L598.80 135.86L598.92 138.29L599.04 140.67L599.16 143.02L599.28 145.33L599.40 147.60L599.52 149.82L599.64 152.00L599.76 154.12L599.88 156.20L600.00 158.22L600.12 160.18L600.24 162.09L600.36 163.94L600.48 165.73L600.60 167.45L600.73 169.11L600.85 170.71L600.97 172.23L601.09 173.69L601.21 175.08L601.33 176.39L601.45 177.64L601.57 178.80L601.69 179.90L601.81 180.91L601.93 181.85L602.05 182.71L602.17 183.48L602.29 184.18L602.41 184.80L602.53 185.34L602.65 185.79L602.78 186.16L602.90 186.45L603.02 186.66L603.14 186.79L603.26 186.83L603.38 186.79L603.50 186.66L603.62 186.45L603.74 186.16L603.86 185.79L603.98 185.33L604.10 184.79L604.22 184.17L604.34 183.47L604.46 182.69L604.58 181.83L604.71 180.89L604.83 179.87L604.95 178.78L605.07 177.61L605.19 176.37L605.31 175.05L605.43 173.66L605.55 172.20L605.67 170.67L605.79 169.08L605.91 167.42L606.03 165.69L606.15 163.90L606.27 162.05L606.39 160.14L606.51 158.18L606.63 156.16L606.76 154.08L606.88 151.96L607.00 149.78L607.12 147.56L607.24 145.29L607.36 142.99L607.48 140.64L607.60 138.25L607.72 135.83L607.84 133.37L607.96 130.89L608.08 128.37L608.20 125.83L608.32 123.27L608.44 120.68L608.56 118.08L608.68 115.46L608.81 112.83L608.93 110.19L609.05 107.54L609.17 104.88L609.29 102.22L609.41 99.57L609.53 96.91L609.65 94.26L609.77 91.62L609.89 88.99L610.01 86.37L610.13 83.77L610.25 81.18L610.37 78.62L610.49 76.08L610.61 73.56L610.74 71.08L610.86 68.62L610.98 66.20L611.10 63.81L611.22 61.46L611.34 59.15L611.46 56.88L611.58 54.66L611.70 52.49L611.82 50.36L611.94 48.29L612.06 46.27L612.18 44.30L612.30 42.39L612.42 40.54L612.54 38.75L612.66 37.03L612.79 35.36L612.91 33.77L613.03 32.24L613.15 30.78L613.27 29.39L613.39 28.07L613.51 26.83L613.63 25.66L613.75 24.56L613.87 23.55L613.99 22.61L614.11 21.75L614.23 20.96L614.35 20.26L614.47 19.64L614.59 19.10L614.71 18.65L614.84 18.27L614.96 17.98L615.08 17.77L615.20 17.64L615.32 17.60L615.44 17.64L615.56 17.77L615.68 17.98L615.80 18.27L615.92 18.64L616.04 19.10L616.16 19.64L616.28 20.26L616.40 20.96L616.52 21.74L616.64 22.60L616.76 23.54L616.89 24.56L617.01 25.65L617.13 26.82L617.25 28.07L617.37 29.38L617.49 30.77L617.61 32.23L617.73 33.76L617.85 35.36L617.97 37.02L618.09 38.75L618.21 40.54L618.33 42.39L618.45 44.29L618.57 46.26L618.69 48.28L618.82 50.36L618.94 52.48L619.06 54.66L619.18 56.88L619.30 59.15L619.42 61.45L619.54 63.80L619.66 66.19L619.78 68.61L619.90 71.07L620.02 73.56L620.14 76.07L620.26 78.61L620.38 81.18L620.50 83.76L620.62 86.37L620.74 88.99L620.87 91.62L620.99 94.26L621.11 96.91L621.23 99.57L621.35 102.22L621.47 104.88L621.59 107.54L621.71 110.19L621.83 112.83L621.95 115.46L622.07 118.08L622.19 120.69L622.31 123.27L622.43 125.84L622.55 128.38L622.67 130.89L622.80 133.38L622.92 135.84L623.04 138.26L623.16 140.65L623.28 143.00L623.40 145.31L623.52 147.57L623.64 149.79L623.76 151.97L623.88 154.10L624.00 156.17L624.12 158.19L624.24 160.16L624.36 162.07L624.48 163.92L624.60 165.71L624.72 167.44L624.85 169.10L624.97 170.69L625.09 172.22L625.21 173.68L625.33 175.07L625.45 176.39L625.57 177.63L625.69 178.80L625.81 179.90L625.93 180.92L626.05 181.86L626.17 182.72L626.29 183.50L626.41 184.20L626.53 184.82L626.65 185.36L626.77 185.82L626.90 186.19L627.02 186.49L627.14 186.69L627.26 186.82L627.38 186.86L627.50 186.82L627.62 186.69L627.74 186.49L627.86 186.19L627.98 185.82L628.10 185.36L628.22 184.82L628.34 184.20L628.46 183.50L628.58 182.72L628.70 181.86L628.83 180.92L628.95 179.90L629.07 178.81L629.19 177.64L629.31 176.39L629.43 175.08L629.55 173.69L629.67 172.23L629.79 170.70L629.91 169.10L630.03 167.44L630.15 165.71L630.27 163.92L630.39 162.07L630.51 160.17L630.63 158.20L630.75 156.18L630.88 154.10L631.00 151.98L631.12 149.80L631.24 147.58L631.36 145.31L631.48 143.00L631.60 140.65L631.72 138.26L631.84 135.84L631.96 133.38L632.08 130.90L632.20 128.38L632.32 125.84L632.44 123.27L632.56 120.69L632.68 118.08L632.80 115.47L632.93 112.83L633.05 110.19L633.17 107.54L633.29 104.88L633.41 102.22L633.53 99.57L633.65 96.91L633.77 94.26L633.89 91.62L634.01 88.98L634.13 86.36L634.25 83.76L634.37 81.17L634.49 78.61L634.61 76.07L634.73 73.55L634.86 71.06L634.98 68.61L635.10 66.18L635.22 63.79L635.34 61.44L635.46 59.13L635.58 56.87L635.70 54.64L635.82 52.47L635.94 50.34L636.06 48.27L636.18 46.24L636.30 44.28L636.42 42.37L636.54 40.52L636.66 38.73L636.78 37.00L636.91 35.34L637.03 33.74L637.15 32.21L637.27 30.75L637.39 29.36L637.51 28.04L637.63 26.80L637.75 25.63L637.87 24.53L637.99 23.52L638.11 22.58L638.23 21.72L638.35 20.93L638.47 20.23L638.59 19.61L638.71 19.07L638.83 18.61L638.96 18.24L639.08 17.95L639.20 17.74L639.32 17.61L639.44 17.57L639.56 17.61L639.68 17.74L639.80 17.95L639.92 18.24L640.04 18.61L640.16 19.07L640.28 19.61L640.40 20.23L640.52 20.93L640.64 21.71L640.76 22.57L640.88 23.51L641.01 24.53L641.13 25.63L641.25 26.80L641.37 28.04L641.49 29.36L641.61 30.75L641.73 32.21L641.85 33.74L641.97 35.33L642.09 36.99L642.21 38.72L642.33 40.51L642.45 42.36L642.57 44.27L642.69 46.24L642.81 48.26L642.94 50.34L643.06 52.46L643.18 54.64L643.30 56.86L643.42 59.13L643.54 61.44L643.66 63.79L643.78 66.18L643.90 68.60L644.02 71.06L644.14 73.55L644.26 76.06L644.38 78.60L644.50 81.17L644.62 83.76L644.74 86.36L644.86 88.98L644.99 91.61L645.11 94.26L645.23 96.91L645.35 99.56L645.47 102.22L645.59 104.88L645.71 107.54L645.83 110.19L645.95 112.84L646.07 115.47L646.19 118.09L646.31 120.69L646.43 123.28L646.55 125.84L646.67 128.39L646.79 130.90L646.91 133.39L647.04 135.85L647.16 138.27L647.28 140.66L647.40 143.01L647.52 145.32L647.64 147.59L647.76 149.81L647.88 151.99L648.00 154.12L648.12 156.19L648.24 158.21L648.36 160.18L648.48 162.09L648.60 163.94L648.72 165.73L648.84 167.46L648.97 169.12L649.09 170.72L649.21 172.25L649.33 173.71L649.45 175.10L649.57 176.42L649.69 177.66L649.81 178.83L649.93 179.93L650.05 180.95L650.17 181.89L650.29 182.75L650.41 183.53L650.53 184.23L650.65 184.85L650.77 185.39L650.89 185.85L651.02 186.23L651.14 186.52L651.26 186.73L651.38 186.85L651.50 186.89L651.62 186.85L651.74 186.73L651.86 186.52L651.98 186.23L652.10 185.85L652.22 185.39L652.34 184.86L652.46 184.23L652.58 183.53L652.70 182.75L652.82 181.89L652.94 180.95L653.07 179.93L653.19 178.84L653.31 177.67L653.43 176.42L653.55 175.11L653.67 173.72L653.79 172.26L653.91 170.73L654.03 169.13L654.15 167.47L654.27 165.74L654.39 163.95L654.51 162.10L654.63 160.19L654.75 158.22L654.87 156.20L655.00 154.12L655.12 151.99L655.24 149.82L655.36 147.60L655.48 145.33L655.60 143.02L655.72 140.67L655.84 138.28L655.96 135.85L656.08 133.40L656.20 130.91L656.32 128.39L656.44 125.85L656.56 123.28L656.68 120.70L656.80 118.09L656.92 115.47L657.05 112.84L657.17 110.19L657.29 107.54L657.41 104.88L657.53 102.22L657.65 99.56L657.77 96.91L657.89 94.26L658.01 91.61L658.13 88.98L658.25 86.36L658.37 83.75L658.49 81.17L658.61 78.60L658.73 76.06L658.85 73.54L658.98 71.05L659.10 68.59L659.22 66.17L659.34 63.78L659.46 61.43L659.58 59.12L659.70 56.85L659.82 54.63L659.94 52.45L660.06 50.32L660.18 48.25L660.30 46.22L660.42 44.26L660.54 42.34L660.66 40.49L660.78 38.70L660.90 36.98L661.03 35.31L661.15 33.71L661.27 32.18L661.39 30.72L661.51 29.33L661.63 28.02L661.75 26.77L661.87 25.60L661.99 24.51L662.11 23.49L662.23 22.55L662.35 21.68L662.47 20.90L662.59 20.20L662.71 19.58L662.83 19.04L662.95 18.58L663.08 18.21L663.20 17.91L663.32 17.71L663.44 17.58L663.56 17.54L663.68 17.58L663.80 17.70L663.92 17.91L664.04 18.21L664.16 18.58L664.28 19.04L664.40 19.58L664.52 20.20L664.64 20.90L664.76 21.68L664.88 22.54L665.00 23.48L665.13 24.50L665.25 25.60L665.37 26.77L665.49 28.01L665.61 29.33L665.73 30.72L665.85 32.18L665.97 33.71L666.09 35.31L666.21 36.97L666.33 38.70L666.45 40.49L666.57 42.34L666.69 44.25L666.81 46.22L666.93 48.24L667.06 50.32L667.18 52.44L667.30 54.62L667.42 56.84L667.54 59.11L667.66 61.42L667.78 63.77L667.90 66.16L668.02 68.59L668.14 71.05L668.26 73.54L668.38 76.05L668.50 78.60L668.62 81.16L668.74 83.75L668.86 86.35L668.98 88.98L669.11 91.61L669.23 94.25L669.35 96.91L669.47 99.56L669.59 102.22L669.71 104.88L669.83 107.54L669.95 110.19L670.07 112.84L670.19 115.47L670.31 118.09L670.43 120.70L670.55 123.28L670.67 125.84L670.79 128.38L670.91 130.88L671.04 133.36L671.16 135.81L671.28 138.22L671.40 140.59L671.52 142.93L671.64 145.22L671.76 147.47L671.88 149.68L672.00 151.83L672.12 153.94L672.24 155.99L672.36 157.99L672.48 159.94L672.60 161.82L672.72 163.65L672.84 165.41L672.96 167.12L673.09 168.75L673.21 170.32L673.33 171.82L673.45 173.26L673.57 174.62L673.69 175.91L673.81 177.12L673.93 177.24L674.05 177.26L674.17 177.17L674.29 176.98L674.41 176.69L674.53 176.31L674.65 175.83L674.77 175.26L674.89 174.61L675.01 173.87L675.14 173.05L675.26 172.14L675.38 171.17L675.50 170.12L675.62 169.00L675.74 167.81L675.86 166.57L675.98 165.26L676.10 163.90L676.22 162.49L676.34 161.02L676.46 159.52L676.58 157.97L676.70 156.39L676.82 155.36L676.94 154.30L677.07 153.19L677.19 152.05L677.31 150.87L677.43 149.66L677.55 148.41L677.67 147.14L677.79 145.84L677.91 144.51L678.03 143.16L678.15 141.79L678.27 140.40L678.39 138.99L678.51 137.57L678.63 136.13L678.75 134.69L678.87 133.24L678.99 131.78L679.12 130.32L679.24 128.86L679.36 127.40L679.48 125.94L679.60 124.49L679.72 123.04L679.84 121.60L679.96 120.17L680.08 118.75L680.20 117.55L680.32 116.32L680.44 115.09L680.56 113.84L680.68 112.58L680.80 111.30L680.92 110.02L681.04 108.74L681.17 107.44L681.29 106.14L681.41 104.84L681.53 103.53L681.65 102.22L681.77 100.92L681.89 99.61L682.01 98.31L682.13 97.01L682.25 95.71L682.37 94.42L682.49 93.14L682.61 91.87L682.73 90.61L682.85 89.36L682.97 88.13L683.10 86.90L683.22 85.69L683.34 84.50L683.46 83.33L683.58 82.17L683.70 81.04L683.82 79.92L683.94 78.83L684.06 77.76L684.18 76.71L684.30 75.69L684.42 74.70L684.54 73.73L684.66 72.79L684.78 71.88L684.90 71.00L685.02 70.15L685.15 69.34L685.27 68.55L685.39 67.80L685.51 67.08L685.63 66.40L685.75 65.75L685.87 65.14L685.99 64.56L686.11 64.03L686.23 63.52L686.35 63.06L686.47 62.64L686.59 62.25L686.71 61.91L686.83 61.60L686.95 61.34L687.07 61.11L687.20 60.93L687.32 60.79L687.44 60.68L687.56 60.62L687.68 60.60L687.80 60.62L687.92 60.68L688.04 60.79L688.16 60.93L688.28 61.11L688.40 61.34L688.52 61.60L688.64 61.91L688.76 62.25L688.88 62.64L689.00 63.06L689.12 63.52L689.25 64.03L689.37 64.56L689.49 65.14L689.61 65.75L689.73 66.40L689.85 67.08L689.97 67.80L690.09 68.55L690.21 69.34L690.33 70.15L690.45 71.00L690.57 71.88L690.69 72.79L690.81 73.73L690.93 74.70L691.05 75.69L691.18 76.71L691.30 77.76L691.42 78.83L691.54 79.92L691.66 81.04L691.78 82.17L691.90 83.33L692.02 84.50L692.14 85.69L692.26 86.90L692.38 88.13L692.50 89.36L692.62 90.61L692.74 91.87L692.86 93.14L692.98 94.42L693.10 95.71L693.23 97.01L693.35 98.31L693.47 99.61L693.59 100.92L693.71 102.22L693.83 103.53L693.95 104.84L694.07 106.14L694.19 107.44L694.31 108.74L694.43 110.02L694.55 111.30L694.67 112.58L694.79 113.84L694.91 115.09L695.03 116.32L695.15 117.55L695.28 118.75L695.40 119.95L695.52 121.12L695.64 122.28L695.76 123.41L695.88 124.53L696.00 125.62L696.12 126.69L696.24 127.73L696.36 128.76L696.48 129.75L696.60 130.72L696.72 131.66L696.84 132.57L696.96 133.45L697.08 134.29L697.21 135.11L697.33 135.90L697.45 136.65L697.57 137.37L697.69 138.05L697.81 138.70L697.93 139.31L698.05 139.88L698.17 140.42L698.29 140.92L698.41 141.39L698.53 141.81L698.65 142.19L698.77 142.54L698.89 142.84L699.01 143.11L699.13 143.33L699.26 143.52L699.38 143.66L699.50 143.76L699.62 143.83L699.74 143.85L699.86 143.83L699.98 143.76L700.10 143.66L700.22 143.52L700.34 143.33L700.46 143.11L700.58 142.84L700.70 142.54L700.82 142.19L700.94 141.81L701.06 141.39L701.18 140.92L701.31 140.42L701.43 139.88L701.55 139.31L701.67 138.70L701.79 138.05L701.91 137.37L702.03 136.65L702.15 135.90L702.27 135.11L702.39 134.29L702.51 133.45L702.63 132.57L702.75 131.66L702.87 130.72L702.99 129.75L703.11 128.76L703.24 127.73L703.36 126.69L703.48 125.62L703.60 124.53L703.72 123.41L703.84 122.28L703.96 121.12L704.08 119.95L704.20 118.75L704.32 117.55L704.44 116.32L704.56 115.09L704.68 113.84L704.80 112.58L704.92 111.30L705.04 110.02L705.16 108.74L705.29 107.44L705.41 106.14L705.53 104.84L705.65 103.53L705.77 102.22L705.89 100.92L706.01 99.61L706.13 98.31L706.25 97.01L706.37 95.71L706.49 94.42L706.61 93.14L706.73 91.87L706.85 90.61L706.97 89.36L707.09 88.13L707.22 86.90L707.34 85.69L707.46 84.50L707.58 83.33L707.70 82.17L707.82 81.04L707.94 79.92L708.06 78.83L708.18 77.76L708.30 76.71L708.42 75.69L708.54 74.70L708.66 73.73L708.78 72.79L708.90 71.88L709.02 71.00L709.14 70.15L709.27 69.34L709.39 68.55L709.51 67.80L709.63 67.08L709.75 66.40L709.87 65.75L709.99 65.14L710.11 64.56L710.23 64.03L710.35 63.52L710.47 63.06L710.59 62.64L710.71 62.25L710.83 61.91L710.95 61.60L711.07 61.34L711.19 61.11L711.32 60.93L711.44 60.79L711.56 60.68L711.68 60.62L711.80 60.60L711.92 60.62L712.04 60.68L712.16 60.79L712.28 60.93L712.40 61.11L712.52 61.34L712.64 61.60L712.76 61.91L712.88 62.25L713.00 62.64L713.12 63.06L713.25 63.52L713.37 64.03L713.49 64.56L713.61 65.14L713.73 65.75L713.85 66.40L713.97 67.08L714.09 67.80L714.21 68.55L714.33 69.34L714.45 70.15L714.57 71.00L714.69 71.88L714.81 72.79L714.93 73.73L715.05 74.70L715.17 75.69L715.30 76.71L715.42 77.76L715.54 78.83L715.66 79.92L715.78 81.04L715.90 82.17L716.02 83.33L716.14 84.50L716.26 85.69L716.38 86.90L716.50 88.13L716.62 89.36L716.74 90.61L716.86 91.87L716.98 93.14L717.10 94.42L717.22 95.71L717.35 97.01L717.47 98.31L717.59 99.61L717.71 100.92L717.83 102.22L717.95 103.53L718.07 104.84L718.19 106.14L718.31 107.44L718.43 108.74L718.55 110.02L718.67 111.30L718.79 112.58L718.91 113.84L719.03 115.09L719.15 116.32L719.28 117.55L719.40 118.75L719.52 119.95L719.64 121.12L719.76 122.28L719.88 123.41L720.00 124.53L720.12 125.62L720.24 126.69L720.36 127.73L720.48 128.76L720.60 129.75L720.72 130.72L720.84 131.66L720.96 132.57L721.08 133.45L721.20 134.29L721.33 135.11L721.45 135.90L721.57 136.65L721.69 137.37L721.81 138.05L721.93 138.70L722.05 139.31L722.17 139.88L722.29 140.42L722.41 140.92L722.53 141.39L722.65 141.81L722.77 142.19L722.89 142.54L723.01 142.84L723.13 143.11L723.25 143.33L723.38 143.52L723.50 143.66L723.62 143.76L723.74 143.83L723.86 143.85L723.98 143.83L724.10 143.76L724.22 143.66L724.34 143.52L724.46 143.33L724.58 143.11L724.70 142.84L724.82 142.54L724.94 142.19L725.06 141.81L725.18 141.39L725.31 140.92L725.43 140.42L725.55 139.88L725.67 139.31L725.79 138.70L725.91 138.05L726.03 137.37L726.15 136.65L726.27 135.90L726.39 135.11L726.51 134.29L726.63 133.45L726.75 132.57L726.87 131.66L726.99 130.72L727.11 129.75L727.23 128.76L727.36 127.73L727.48 126.69L727.60 125.62L727.72 124.53L727.84 123.41L727.96 122.28L728.08 121.12L728.20 119.95L728.32 118.75L728.44 117.55L728.56 116.32L728.68 115.09L728.80 113.84L728.92 112.58L729.04 111.30L729.16 110.02L729.28 108.74L729.41 107.44L729.53 106.14L729.65 104.84L729.77 103.53L729.89 102.22L730.01 100.92L730.13 99.61L730.25 98.31L730.37 97.01L730.49 95.71L730.61 94.42L730.73 93.14L730.85 91.87L730.97 90.61L731.09 89.36L731.21 88.13L731.34 86.90L731.46 85.69L731.58 84.50L731.70 83.33L731.82 82.17L731.94 81.04L732.06 79.92L732.18 78.83L732.30 77.76L732.42 76.71L732.54 75.69L732.66 74.70L732.78 73.73L732.90 72.79L733.02 71.88L733.14 71.00L733.26 70.15L733.39 69.34L733.51 68.55L733.63 67.80L733.75 67.08L733.87 66.40L733.99 65.75L734.11 65.14L734.23 64.56L734.35 64.03L734.47 63.52L734.59 63.06L734.71 62.64L734.83 62.25L734.95 61.91L735.07 61.60L735.19 61.34L735.31 61.11L735.44 60.93L735.56 60.79L735.68 60.68L735.80 60.62L735.92 60.60L736.04 60.62L736.16 60.68L736.28 60.79L736.40 60.93L736.52 61.11L736.64 61.34L736.76 61.60L736.88 61.91L737.00 62.25L737.12 62.64L737.24 63.06L737.37 63.52L737.49 64.03L737.61 64.56L737.73 65.14L737.85 65.75L737.97 66.40L738.09 67.08L738.21 67.80L738.33 68.55L738.45 69.34L738.57 70.15L738.69 71.00L738.81 71.88L738.93 72.79L739.05 73.73L739.17 74.70L739.29 75.69L739.42 76.71L739.54 77.76L739.66 78.83L739.78 79.92L739.90 81.04L740.02 82.17L740.14 83.33L740.26 84.50L740.38 85.69L740.50 86.90L740.62 88.13L740.74 89.36L740.86 90.61L740.98 91.87L741.10 93.14L741.22 94.42L741.34 95.71L741.47 97.01L741.59 98.31L741.71 99.61L741.83 100.92L741.95 102.22L742.07 103.53L742.19 104.84L742.31 106.14L742.43 107.44L742.55 108.74L742.67 110.02L742.79 111.30L742.91 112.58L743.03 113.84L743.15 115.09L743.27 116.32L743.39 117.55L743.52 118.75L743.64 119.95L743.76 121.12L743.88 122.28L744.00 123.41L744.12 124.53L744.24 125.62L744.36 126.69L744.48 127.73L744.60 128.76L744.72 129.75L744.84 130.72L744.96 131.66L745.08 132.57L745.20 133.45L745.32 134.29L745.45 135.11L745.57 135.90L745.69 136.65L745.81 137.37L745.93 138.05L746.05 138.70L746.17 139.31L746.29 139.88L746.41 140.42L746.53 140.92L746.65 141.39L746.77 141.81L746.89 142.19L747.01 142.54L747.13 142.84L747.25 143.11L747.37 143.33L747.50 143.52L747.62 143.66L747.74 143.76L747.86 143.83L747.98 143.85L748.10 143.83L748.22 143.76L748.34 143.66L748.46 143.52L748.58 143.33L748.70 143.11L748.82 142.84L748.94 142.54L749.06 142.19L749.18 141.81L749.30 141.39L749.42 140.92L749.55 140.42L749.67 139.88L749.79 139.31L749.91 138.70L750.03 138.05L750.15 137.37L750.27 136.65L750.39 135.90L750.51 135.11L750.63 134.29L750.75 133.45L750.87 132.57L750.99 131.66L751.11 130.72L751.23 129.75L751.35 128.76L751.48 127.73L751.60 126.69L751.72 125.62L751.84 124.53L751.96 123.41L752.08 122.28L752.20 121.12L752.32 119.95L752.44 118.75L752.56 117.55L752.68 116.32L752.80 115.09L752.92 113.84L753.04 112.58L753.16 111.30L753.28 110.02L753.40 108.74L753.53 107.44L753.65 106.14L753.77 104.84L753.89 103.53L754.01 102.22L754.13 100.92L754.25 99.61L754.37 98.31L754.49 97.01L754.61 95.71L754.73 94.42L754.85 93.14L754.97 91.87L755.09 90.61L755.21 89.36L755.33 88.13L755.46 86.90L755.58 85.69L755.70 84.50L755.82 83.33L755.94 82.17L756.06 81.04L756.18 79.92L756.30 78.83L756.42 77.76L756.54 76.71L756.66 75.69L756.78 74.70L756.90 73.73L757.02 72.79L757.14 71.88L757.26 71.00L757.38 70.15L757.51 69.34L757.63 68.55L757.75 67.80L757.87 67.08L757.99 66.40L758.11 65.75L758.23 65.14L758.35 64.56L758.47 64.03L758.59 63.52L758.71 63.06L758.83 62.64L758.95 62.25L759.07 61.91L759.19 61.60L759.31 61.34L759.43 61.11L759.56 60.93L759.68 60.79L759.80 60.68L759.92 60.62L760.04 60.60L760.16 60.62L760.28 60.68L760.40 60.79L760.52 60.93L760.64 61.11L760.76 61.34L760.88 61.60L761.00 61.91L761.12 62.25L761.24 62.64L761.36 63.06L761.49 63.52L761.61 64.03L761.73 64.56L761.85 65.14L761.97 65.75L762.09 66.40L762.21 67.08L762.33 67.80L762.45 68.55L762.57 69.34L762.69 70.15L762.81 71.00L762.93 71.88L763.05 72.79L763.17 73.73L763.29 74.70L763.41 75.69L763.54 76.71L763.66 77.76L763.78 78.83L763.90 79.92L764.02 81.04L764.14 82.17L764.26 83.33L764.38 84.50L764.50 85.69" stroke="#0473C1" stroke-width="3.15" fill="none" stroke-linejoin="bevel" clip-path="url(#cr)"/>
<path d="M463.00 101.76L463.12 101.71L463.24 101.57L463.36 101.34L463.48 101.02L463.60 100.63L463.72 100.17L463.84 99.65L463.96 99.06L464.09 98.42L464.21 97.73L464.33 97.00L464.45 96.22L464.57 95.41L464.69 94.56L464.81 93.68L464.93 92.78L465.05 91.85L465.17 90.90L465.29 89.94L465.41 88.96L465.53 87.97L465.65 86.97L465.77 85.96L465.89 84.95L466.01 83.94L466.14 82.93L466.26 81.93L466.38 80.93L466.50 79.93L466.62 78.95L466.74 77.97L466.86 77.01L466.98 76.07L467.10 75.14L467.22 74.23L467.34 73.34L467.46 72.46L467.58 71.61L467.70 70.79L467.82 69.99L467.94 69.21L468.07 68.46L468.19 67.75L468.31 67.06L468.43 66.40L468.55 65.77L468.67 65.17L468.79 64.61L468.91 64.08L469.03 63.59L469.15 63.12L469.27 62.68L469.39 62.29L469.51 61.93L469.63 61.60L469.75 61.32L469.87 61.07L469.99 60.87L470.12 60.70L470.24 60.57L470.36 60.49L470.48 60.44L470.60 60.43L470.72 60.46L470.84 60.54L470.96 60.65L471.08 60.80L471.20 61.00L471.32 61.23L471.44 61.50L471.56 61.81L471.68 62.17L471.80 62.56L471.92 62.99L472.05 63.45L472.17 63.96L472.29 64.50L472.41 65.08L472.53 65.70L472.65 66.35L472.77 67.03L472.89 67.76L473.01 68.51L473.13 69.30L473.25 70.12L473.37 70.97L473.49 71.85L473.61 72.76L473.73 73.71L473.85 74.67L473.97 75.67L474.10 76.69L474.22 77.74L474.34 78.81L474.46 79.90L474.58 81.02L474.70 82.16L474.82 83.31L474.94 84.49L475.06 85.68L475.18 86.89L475.30 88.11L475.42 89.35L475.54 90.60L475.66 91.86L475.78 93.14L475.90 94.42L476.02 95.71L476.15 97.00L476.27 98.30L476.39 99.61L476.51 100.91L476.63 102.22L476.75 103.53L476.87 104.83L476.99 106.14L477.11 107.44L477.23 108.73L477.35 110.02L477.47 111.30L477.59 112.57L477.71 113.83L477.83 115.08L477.95 116.32L478.07 117.54L478.20 118.75L478.32 119.94L478.44 121.12L478.56 122.27L478.68 123.41L478.80 124.53L478.92 125.62L479.04 126.69L479.16 127.73L479.28 128.75L479.40 129.75L479.52 130.72L479.64 131.65L479.76 132.56L479.88 133.44L480.00 134.29L480.13 135.11L480.25 135.90L480.37 136.65L480.49 137.37L480.61 138.05L480.73 138.70L480.85 139.31L480.97 139.88L481.09 140.42L481.21 140.92L481.33 141.39L481.45 141.81L481.57 142.19L481.69 142.54L481.81 142.84L481.93 143.11L482.05 143.33L482.18 143.52L482.30 143.66L482.42 143.76L482.54 143.83L482.66 143.85L482.78 143.83L482.90 143.76L483.02 143.66L483.14 143.52L483.26 143.33L483.38 143.11L483.50 142.84L483.62 142.54L483.74 142.19L483.86 141.81L483.98 141.39L484.11 140.92L484.23 140.42L484.35 139.88L484.47 139.31L484.59 138.70L484.71 138.05L484.83 137.37L484.95 136.65L485.07 135.90L485.19 135.11L485.31 134.29L485.43 133.45L485.55 132.57L485.67 131.66L485.79 130.72L485.91 129.75L486.03 128.76L486.16 127.73L486.28 126.69L486.40 125.62L486.52 124.53L486.64 123.41L486.76 122.28L486.88 121.12L487.00 119.95L487.12 118.75L487.24 117.55L487.36 116.32L487.48 115.09L487.60 113.84L487.72 112.58L487.84 111.30L487.96 110.02L488.08 108.74L488.21 107.44L488.33 106.14L488.45 104.84L488.57 103.53L488.69 102.22L488.81 100.92L488.93 99.61L489.05 98.31L489.17 97.01L489.29 95.71L489.41 94.42L489.53 93.14L489.65 91.87L489.77 90.61L489.89 89.36L490.01 88.13L490.13 86.90L490.26 85.69L490.38 84.50L490.50 83.33L490.62 82.17L490.74 81.04L490.86 79.92L490.98 78.83L491.10 77.76L491.22 76.71L491.34 75.69L491.46 74.70L491.58 73.73L491.70 72.79L491.82 71.88L491.94 71.00L492.06 70.15L492.19 69.34L492.31 68.55L492.43 67.80L492.55 67.08L492.67 66.40L492.79 65.75L492.91 65.14L493.03 64.56L493.15 64.03L493.27 63.52L493.39 63.06L493.51 62.64L493.63 62.25L493.75 61.91L493.87 61.60L493.99 61.34L494.11 61.11L494.24 60.93L494.36 60.79L494.48 60.68L494.60 60.62L494.72 60.60L494.84 60.62L494.96 60.68L495.08 60.79L495.20 60.93L495.32 61.11L495.44 61.34L495.56 61.60L495.68 61.91L495.80 62.25L495.92 62.64L496.04 63.06L496.17 63.52L496.29 64.03L496.41 64.56L496.53 65.14L496.65 65.75L496.77 66.40L496.89 67.08L497.01 67.80L497.13 68.55L497.25 69.34L497.37 70.15L497.49 71.00L497.61 71.88L497.73 72.79L497.85 73.73L497.97 74.70L498.09 75.69L498.22 76.71L498.34 77.76L498.46 78.83L498.58 79.92L498.70 81.04L498.82 82.17L498.94 83.33L499.06 84.50L499.18 85.69L499.30 86.90L499.42 88.13L499.54 89.36L499.66 90.61L499.78 91.87L499.90 93.14L500.02 94.42L500.14 95.71L500.27 97.01L500.39 98.31L500.51 99.61L500.63 100.92L500.75 102.22L500.87 103.53L500.99 104.84L501.11 106.14L501.23 107.44L501.35 108.74L501.47 110.02L501.59 111.30L501.71 112.58L501.83 113.84L501.95 115.09L502.07 116.32L502.19 117.55L502.32 118.75L502.44 119.95L502.56 121.12L502.68 122.28L502.80 123.41L502.92 124.53L503.04 125.62L503.16 126.69L503.28 127.73L503.40 128.76L503.52 129.75L503.64 130.72L503.76 131.66L503.88 132.57L504.00 133.45L504.12 134.29L504.25 135.11L504.37 135.90L504.49 136.65L504.61 137.37L504.73 138.05L504.85 138.70L504.97 139.31L505.09 139.88L505.21 140.42L505.33 140.92L505.45 141.39L505.57 141.81L505.69 142.19L505.81 142.54L505.93 142.84L506.05 143.11L506.17 143.33L506.30 143.52L506.42 143.66L506.54 143.76L506.66 143.83L506.78 143.85L506.90 143.83L507.02 143.76L507.14 143.66L507.26 143.52L507.38 143.33L507.50 143.11L507.62 142.84L507.74 142.54L507.86 142.19L507.98 141.81L508.10 141.39L508.23 140.92L508.35 140.42L508.47 139.88L508.59 139.31L508.71 138.70L508.83 138.05L508.95 137.37L509.07 136.65L509.19 135.90L509.31 135.11L509.43 134.29L509.55 133.45L509.67 132.57L509.79 131.66L509.91 130.72L510.03 129.75L510.15 128.76L510.28 127.73L510.40 126.69L510.52 125.62L510.64 124.53L510.76 123.41L510.88 122.28L511.00 121.12L511.12 119.95L511.24 118.75L511.36 117.55L511.48 116.32L511.60 115.09L511.72 113.84L511.84 112.58L511.96 111.30L512.08 110.02L512.20 108.74L512.33 107.44L512.45 106.14L512.57 104.84L512.69 103.53L512.81 102.22L512.93 100.92L513.05 99.61L513.17 98.31L513.29 97.01L513.41 95.71L513.53 94.42L513.65 93.14L513.77 91.87L513.89 90.61L514.01 89.36L514.13 88.13L514.25 86.90L514.38 85.69L514.50 84.50L514.62 83.33L514.74 82.17L514.86 81.04L514.98 79.92L515.10 78.83L515.22 77.76L515.34 76.71L515.46 75.69L515.58 74.70L515.70 73.73L515.82 72.79L515.94 71.88L516.06 71.00L516.18 70.15L516.31 69.34L516.43 68.55L516.55 67.80L516.67 67.08L516.79 66.40L516.91 65.75L517.03 65.14L517.15 64.56L517.27 64.03L517.39 63.52L517.51 63.06L517.63 62.64L517.75 62.25L517.87 61.91L517.99 61.60L518.11 61.34L518.23 61.11L518.36 60.93L518.48 60.79L518.60 60.68L518.72 60.62L518.84 60.60L518.96 60.62L519.08 60.68L519.20 60.79L519.32 60.93L519.44 61.11L519.56 61.34L519.68 61.60L519.80 61.91L519.92 62.25L520.04 62.64L520.16 63.06L520.28 63.52L520.41 64.03L520.53 64.56L520.65 65.14L520.77 65.75L520.89 66.40L521.01 67.08L521.13 67.80L521.25 68.55L521.37 69.34L521.49 70.15L521.61 71.00L521.73 71.88L521.85 72.79L521.97 73.73L522.09 74.70L522.21 75.69L522.34 76.71L522.46 77.76L522.58 78.83L522.70 79.92L522.82 81.04L522.94 82.17L523.06 83.33L523.18 84.50L523.30 85.69L523.42 86.74L523.54 87.83L523.66 88.96L523.78 90.13L523.90 91.34L524.02 92.58L524.14 93.86L524.26 95.17L524.39 96.52L524.51 97.90L524.63 99.31L524.75 100.75L524.87 102.22L524.99 103.72L525.11 105.24L525.23 106.79L525.35 108.36L525.47 109.95L525.59 111.56L525.71 113.18L525.83 114.82L525.95 116.48L526.07 118.14L526.19 119.82L526.32 121.51L526.44 123.20L526.56 124.89L526.68 126.59L526.80 128.29L526.92 129.98L527.04 131.68L527.16 133.36L527.28 135.04L527.40 136.70L527.52 138.36L527.64 140.00L527.76 141.62L527.88 143.22L528.00 144.80L528.12 146.36L528.24 147.89L528.37 149.40L528.49 150.87L528.61 152.31L528.73 153.72L528.85 155.09L528.97 156.42L529.09 157.72L529.21 158.97L529.33 160.17L529.45 161.33L529.57 162.44L529.69 163.50L529.81 164.51L529.93 165.47L530.05 166.37L530.17 167.21L530.29 167.99L530.42 168.71L530.54 169.37L530.66 169.97L530.78 170.50L530.90 170.96L531.02 171.36L531.14 171.68L531.26 171.94L531.38 172.13L531.50 172.03L531.62 171.85L531.74 171.61L531.86 171.30L531.98 170.91L532.10 170.45L532.22 169.93L532.35 169.33L532.47 168.65L532.59 167.91L532.71 167.10L532.83 166.22L532.95 165.26L533.07 164.24L533.19 163.15L533.31 161.99L533.43 160.77L533.55 159.48L533.67 158.12L533.79 156.70L533.91 155.22L534.03 153.68L534.15 152.07L534.27 150.41L534.40 148.69L534.52 146.91L534.64 145.07L534.76 143.19L534.88 141.25L535.00 139.26L535.12 137.22L535.24 135.14L535.36 133.01L535.48 130.84L535.60 128.63L535.72 126.38L535.84 124.09L535.96 121.77L536.08 119.41L536.20 117.03L536.32 114.62L536.45 112.18L536.57 109.72L536.69 107.24L536.81 104.74L536.93 102.22L537.05 99.70L537.17 97.16L537.29 94.61L537.41 92.05L537.53 89.50L537.65 86.94L537.77 84.38L537.89 81.86L538.01 79.36L538.13 76.88L538.25 74.41L538.38 71.97L538.50 69.56L538.62 67.17L538.74 64.81L538.86 62.49L538.98 60.20L539.10 57.94L539.22 55.73L539.34 53.56L539.46 51.43L539.58 49.35L539.70 47.32L539.82 45.34L539.94 43.41L540.06 41.53L540.18 39.71L540.30 37.95L540.43 36.25L540.55 34.62L540.67 33.04L540.79 31.54L540.91 30.10L541.03 28.72L541.15 27.42L541.27 26.19L541.39 25.04L541.51 23.95L541.63 22.95L541.75 22.01L541.87 21.16L541.99 20.39L542.11 19.69L542.23 19.08L542.35 18.54L542.48 18.09L542.60 17.72L542.72 17.52L542.84 17.41L542.96 17.38L543.08 17.43L543.20 17.56L543.32 17.78L543.44 18.09L543.56 18.47L543.68 18.94L543.80 19.49L543.92 20.12L544.04 20.83L544.16 21.62L544.28 22.50L544.40 23.45L544.53 24.47L544.65 25.58L544.77 26.76L544.89 28.01L545.01 29.34L545.13 30.74L545.25 32.20L545.37 33.74L545.49 35.35L545.61 37.02L545.73 38.75L545.85 40.55L545.97 42.40L546.09 44.32L546.21 46.29L546.33 48.32L546.46 50.40L546.58 52.53L546.70 54.71L546.82 56.93L546.94 59.20L547.06 61.51L547.18 63.86L547.30 66.25L547.42 68.67L547.54 71.13L547.66 73.61L547.78 76.13L547.90 78.67L548.02 81.23L548.14 83.81L548.26 86.41L548.38 89.02L548.51 91.65L548.63 94.28L548.75 96.93L548.87 99.57L548.99 102.22L549.11 104.87L549.23 107.52L549.35 110.16L549.47 112.79L549.59 115.41L549.71 118.02L549.83 120.61L549.95 123.19L550.07 125.74L550.19 128.27L550.31 130.77L550.44 133.25L550.56 135.69L550.68 138.10L550.80 140.48L550.92 142.81L551.04 145.11L551.16 147.36L551.28 149.57L551.40 151.73L551.52 153.85L551.64 155.91L551.76 157.92L551.88 159.87L552.00 161.76L552.12 163.60L552.24 165.38L552.36 167.09L552.49 168.74L552.61 170.32L552.73 171.84L552.85 173.28L552.97 174.66L553.09 175.97L553.21 177.20L553.33 178.36L553.45 179.44L553.57 180.44L553.69 181.37L553.81 182.22L553.93 183.00L554.05 183.69L554.17 184.30L554.29 184.83L554.41 185.28L554.54 185.64L554.66 185.93L554.78 186.13L554.90 186.25L555.02 186.28L555.14 186.25L555.26 186.14L555.38 185.94L555.50 185.65L555.62 185.29L555.74 184.85L555.86 184.32L555.98 183.71L556.10 183.02L556.22 182.25L556.34 181.40L556.47 180.48L556.59 179.47L556.71 178.39L556.83 177.23L556.95 176.00L557.07 174.70L557.19 173.33L557.31 171.88L557.43 170.37L557.55 168.78L557.67 167.14L557.79 165.42L557.91 163.65L558.03 161.81L558.15 159.92L558.27 157.96L558.39 155.96L558.52 153.89L558.64 151.78L558.76 149.62L558.88 147.41L559.00 145.16L559.12 142.86L559.24 140.52L559.36 138.14L559.48 135.73L559.60 133.29L559.72 130.81L559.84 128.30L559.96 125.77L560.08 123.22L560.20 120.64L560.32 118.04L560.44 115.43L560.57 112.81L560.69 110.17L560.81 107.53L560.93 104.88L561.05 102.22L561.17 99.57L561.29 96.92L561.41 94.27L561.53 91.63L561.65 89.00L561.77 86.38L561.89 83.78L562.01 81.20L562.13 78.63L562.25 76.09L562.37 73.58L562.50 71.09L562.62 68.63L562.74 66.20L562.86 63.81L562.98 61.46L563.10 59.15L563.22 56.88L563.34 54.65L563.46 52.47L563.58 50.34L563.70 48.26L563.82 46.23L563.94 44.25L564.06 42.34L564.18 40.48L564.30 38.68L564.42 36.95L564.55 35.28L564.67 33.67L564.79 32.14L564.91 30.67L565.03 29.27L565.15 27.94L565.27 26.69L565.39 25.51L565.51 24.41L565.63 23.38L565.75 22.43L565.87 21.56L565.99 20.77L566.11 20.05L566.23 19.42L566.35 18.88L566.47 18.41L566.60 18.03L566.72 17.72L566.84 17.52L566.96 17.39L567.08 17.36L567.20 17.40L567.32 17.53L567.44 17.74L567.56 18.04L567.68 18.41L567.80 18.88L567.92 19.42L568.04 20.04L568.16 20.75L568.28 21.54L568.40 22.40L568.52 23.35L568.65 24.37L568.77 25.47L568.89 26.64L569.01 27.89L569.13 29.21L569.25 30.61L569.37 32.07L569.49 33.61L569.61 35.21L569.73 36.88L569.85 38.61L569.97 40.41L570.09 42.26L570.21 44.18L570.33 46.15L570.45 48.18L570.58 50.26L570.70 52.39L570.82 54.57L570.94 56.80L571.06 59.07L571.18 61.38L571.30 63.74L571.42 66.13L571.54 68.56L571.66 71.02L571.78 73.51L571.90 76.03L572.02 78.58L572.14 81.15L572.26 83.74L572.38 86.34L572.50 88.97L572.63 91.60L572.75 94.25L572.87 96.90L572.99 99.56L573.11 102.22L573.23 104.89L573.35 107.54L573.47 110.20L573.59 112.84L573.71 115.48L573.83 118.10L573.95 120.70L574.07 123.29L574.19 125.86L574.31 128.40L574.43 130.92L574.55 133.40L574.68 135.86L574.80 138.29L574.92 140.67L575.04 143.02L575.16 145.33L575.28 147.60L575.40 149.82L575.52 152.00L575.64 154.12L575.76 156.20L575.88 158.22L576.00 160.18L576.12 162.09L576.24 163.94L576.36 165.73L576.48 167.45L576.61 169.11L576.73 170.71L576.85 172.23L576.97 173.69L577.09 175.08L577.21 176.39L577.33 177.64L577.45 178.80L577.57 179.90L577.69 180.91L577.81 181.85L577.93 182.71L578.05 183.48L578.17 184.18L578.29 184.80L578.41 185.34L578.53 185.79L578.66 186.16L578.78 186.45L578.90 186.66L579.02 186.79L579.14 186.84L579.26 186.80L579.38 186.68L579.50 186.47L579.62 186.18L579.74 185.81L579.86 185.35L579.98 184.82L580.10 184.20L580.22 183.50L580.34 182.72L580.46 181.86L580.59 180.93L580.71 179.91L580.83 178.82L580.95 177.65L581.07 176.41L581.19 175.09L581.31 173.71L581.43 172.25L581.55 170.72L581.67 169.13L581.79 167.47L581.91 165.74L582.03 163.95L582.15 162.10L582.27 160.19L582.39 158.23L582.51 156.21L582.64 154.13L582.76 152.01L582.88 149.83L583.00 147.61L583.12 145.34L583.24 143.03L583.36 140.68L583.48 138.29L583.60 135.87L583.72 133.41L583.84 130.92L583.96 128.40L584.08 125.86L584.20 123.29L584.32 120.71L584.44 118.10L584.56 115.48L584.69 112.84L584.81 110.20L584.93 107.55L585.05 104.89L585.17 102.22L585.29 99.56L585.41 96.90L585.53 94.25L585.65 91.60L585.77 88.96L585.89 86.34L586.01 83.73L586.13 81.14L586.25 78.57L586.37 76.03L586.49 73.51L586.62 71.01L586.74 68.55L586.86 66.12L586.98 63.73L587.10 61.38L587.22 59.06L587.34 56.79L587.46 54.56L587.58 52.38L587.70 50.25L587.82 48.17L587.94 46.14L588.06 44.16L588.18 42.25L588.30 40.39L588.42 38.60L588.54 36.87L588.67 35.20L588.79 33.59L588.91 32.06L589.03 30.59L589.15 29.20L589.27 27.88L589.39 26.63L589.51 25.45L589.63 24.35L589.75 23.33L589.87 22.39L589.99 21.52L590.11 20.73L590.23 20.03L590.35 19.40L590.47 18.86L590.59 18.40L590.72 18.02L590.84 17.72L590.96 17.52L591.08 17.39L591.20 17.36L591.32 17.40L591.44 17.53L591.56 17.74L591.68 18.04L591.80 18.41L591.92 18.88L592.04 19.42L592.16 20.04L592.28 20.75L592.40 21.54L592.52 22.40L592.64 23.35L592.77 24.37L592.89 25.47L593.01 26.64L593.13 27.89L593.25 29.21L593.37 30.61L593.49 32.07L593.61 33.61L593.73 35.21L593.85 36.88L593.97 38.61L594.09 40.41L594.21 42.26L594.33 44.18L594.45 46.15L594.57 48.18L594.70 50.26L594.82 52.39L594.94 54.57L595.06 56.80L595.18 59.07L595.30 61.38L595.42 63.74L595.54 66.13L595.66 68.56L595.78 71.02L595.90 73.51L596.02 76.03L596.14 78.58L596.26 81.15L596.38 83.74L596.50 86.34L596.62 88.97L596.75 91.60L596.87 94.25L596.99 96.90L597.11 99.56L597.23 102.22L597.35 104.89L597.47 107.54L597.59 110.20L597.71 112.84L597.83 115.48L597.95 118.10L598.07 120.70L598.19 123.29L598.31 125.86L598.43 128.40L598.55 130.92L598.67 133.40L598.80 135.86L598.92 138.29L599.04 140.67L599.16 143.02L599.28 145.33L599.40 147.60L599.52 149.82L599.64 152.00L599.76 154.12L599.88 156.20L600.00 158.22L600.12 160.18L600.24 162.09L600.36 163.94L600.48 165.73L600.60 167.45L600.73 169.11L600.85 170.71L600.97 172.23L601.09 173.69L601.21 175.08L601.33 176.39L601.45 177.64L601.57 178.80L601.69 179.90L601.81 180.91L601.93 181.85L602.05 182.71L602.17 183.48L602.29 184.18L602.41 184.80L602.53 185.34L602.65 185.79L602.78 186.16L602.90 186.45L603.02 186.66L603.14 186.79L603.26 186.83L603.38 186.79L603.50 186.66L603.62 186.45L603.74 186.16L603.86 185.79L603.98 185.33L604.10 184.79L604.22 184.17L604.34 183.47L604.46 182.69L604.58 181.83L604.71 180.89L604.83 179.87L604.95 178.78L605.07 177.61L605.19 176.37L605.31 175.05L605.43 173.66L605.55 172.20L605.67 170.67L605.79 169.08L605.91 167.42L606.03 165.69L606.15 163.90L606.27 162.05L606.39 160.14L606.51 158.18L606.63 156.16L606.76 154.08L606.88 151.96L607.00 149.78L607.12 147.56L607.24 145.29L607.36 142.99L607.48 140.64L607.60 138.25L607.72 135.83L607.84 133.37L607.96 130.89L608.08 128.37L608.20 125.83L608.32 123.27L608.44 120.68L608.56 118.08L608.68 115.46L608.81 112.83L608.93 110.19L609.05 107.54L609.17 104.88L609.29 102.22L609.41 99.57L609.53 96.91L609.65 94.26L609.77 91.62L609.89 88.99L610.01 86.37L610.13 83.77L610.25 81.18L610.37 78.62L610.49 76.08L610.61 73.56L610.74 71.08L610.86 68.62L610.98 66.20L611.10 63.81L611.22 61.46L611.34 59.15L611.46 56.88L611.58 54.66L611.70 52.49L611.82 50.36L611.94 48.29L612.06 46.27L612.18 44.30L612.30 42.39L612.42 40.54L612.54 38.75L612.66 37.03L612.79 35.36L612.91 33.77L613.03 32.24L613.15 30.78L613.27 29.39L613.39 28.07L613.51 26.83L613.63 25.66L613.75 24.56L613.87 23.55L613.99 22.61L614.11 21.75L614.23 20.96L614.35 20.26L614.47 19.64L614.59 19.10L614.71 18.65L614.84 18.27L614.96 17.98L615.08 17.77L615.20 17.64L615.32 17.60L615.44 17.64L615.56 17.77L615.68 17.98L615.80 18.27L615.92 18.64L616.04 19.10L616.16 19.64L616.28 20.26L616.40 20.96L616.52 21.74L616.64 22.60L616.76 23.54L616.89 24.56L617.01 25.65L617.13 26.82L617.25 28.07L617.37 29.38L617.49 30.77L617.61 32.23L617.73 33.76L617.85 35.36L617.97 37.02L618.09 38.75L618.21 40.54L618.33 42.39L618.45 44.29L618.57 46.26L618.69 48.28L618.82 50.36L618.94 52.48L619.06 54.66L619.18 56.88L619.30 59.15L619.42 61.45L619.54 63.80L619.66 66.19L619.78 68.61L619.90 71.07L620.02 73.56L620.14 76.07L620.26 78.61L620.38 81.18L620.50 83.76L620.62 86.37L620.74 88.99L620.87 91.62L620.99 94.26L621.11 96.91L621.23 99.57L621.35 102.22L621.47 104.88L621.59 107.54L621.71 110.19L621.83 112.83L621.95 115.46L622.07 118.08L622.19 120.69L622.31 123.27L622.43 125.84L622.55 128.38L622.67 130.89L622.80 133.38L622.92 135.84L623.04 138.26L623.16 140.65L623.28 143.00L623.40 145.31L623.52 147.57L623.64 149.79L623.76 151.97L623.88 154.10L624.00 156.17L624.12 158.19L624.24 160.16L624.36 162.07L624.48 163.92L624.60 165.71L624.72 167.44L624.85 169.10L624.97 170.69L625.09 172.22L625.21 173.68L625.33 175.07L625.45 176.39L625.57 177.63L625.69 178.80L625.81 179.90L625.93 180.92L626.05 181.86L626.17 182.72L626.29 183.50L626.41 184.20L626.53 184.82L626.65 185.36L626.77 185.82L626.90 186.19L627.02 186.49L627.14 186.69L627.26 186.82L627.38 186.86L627.50 186.82L627.62 186.69L627.74 186.49L627.86 186.19L627.98 185.82L628.10 185.36L628.22 184.82L628.34 184.20L628.46 183.50L628.58 182.72L628.70 181.86L628.83 180.92L628.95 179.90L629.07 178.81L629.19 177.64L629.31 176.39L629.43 175.08L629.55 173.69L629.67 172.23L629.79 170.70L629.91 169.10L630.03 167.44L630.15 165.71L630.27 163.92L630.39 162.07L630.51 160.17L630.63 158.20L630.75 156.18L630.88 154.10L631.00 151.98L631.12 149.80L631.24 147.58L631.36 145.31L631.48 143.00L631.60 140.65L631.72 138.26L631.84 135.84L631.96 133.38L632.08 130.90L632.20 128.38L632.32 125.84L632.44 123.27L632.56 120.69L632.68 118.08L632.80 115.47L632.93 112.83L633.05 110.19L633.17 107.54L633.29 104.88L633.41 102.22L633.53 99.57L633.65 96.91L633.77 94.26L633.89 91.62L634.01 88.98L634.13 86.36L634.25 83.76L634.37 81.17L634.49 78.61L634.61 76.07L634.73 73.55L634.86 71.06L634.98 68.61L635.10 66.18L635.22 63.79L635.34 61.44L635.46 59.13L635.58 56.87L635.70 54.64L635.82 52.47L635.94 50.34L636.06 48.27L636.18 46.24L636.30 44.28L636.42 42.37L636.54 40.52L636.66 38.73L636.78 37.00L636.91 35.34L637.03 33.74L637.15 32.21L637.27 30.75L637.39 29.36L637.51 28.04L637.63 26.80L637.75 25.63L637.87 24.53L637.99 23.52L638.11 22.58L638.23 21.72L638.35 20.93L638.47 20.23L638.59 19.61L638.71 19.07L638.83 18.61L638.96 18.24L639.08 17.95L639.20 17.74L639.32 17.61L639.44 17.57L639.56 17.61L639.68 17.74L639.80 17.95L639.92 18.24L640.04 18.61L640.16 19.07L640.28 19.61L640.40 20.23L640.52 20.93L640.64 21.71L640.76 22.57L640.88 23.51L641.01 24.53L641.13 25.63L641.25 26.80L641.37 28.04L641.49 29.36L641.61 30.75L641.73 32.21L641.85 33.74L641.97 35.33L642.09 36.99L642.21 38.72L642.33 40.51L642.45 42.36L642.57 44.27L642.69 46.24L642.81 48.26L642.94 50.34L643.06 52.46L643.18 54.64L643.30 56.86L643.42 59.13L643.54 61.44L643.66 63.79L643.78 66.18L643.90 68.60L644.02 71.06L644.14 73.55L644.26 76.06L644.38 78.60L644.50 81.17L644.62 83.76L644.74 86.36L644.86 88.98L644.99 91.61L645.11 94.26L645.23 96.91L645.35 99.56L645.47 102.22L645.59 104.88L645.71 107.54L645.83 110.19L645.95 112.84L646.07 115.47L646.19 118.09L646.31 120.69L646.43 123.28L646.55 125.84L646.67 128.39L646.79 130.90L646.91 133.39L647.04 135.85L647.16 138.27L647.28 140.66L647.40 143.01L647.52 145.32L647.64 147.59L647.76 149.81L647.88 151.99L648.00 154.12L648.12 156.19L648.24 158.21L648.36 160.18L648.48 162.09L648.60 163.94L648.72 165.73L648.84 167.46L648.97 169.12L649.09 170.72L649.21 172.25L649.33 173.71L649.45 175.10L649.57 176.42L649.69 177.66L649.81 178.83L649.93 179.93L650.05 180.95L650.17 181.89L650.29 182.75L650.41 183.53L650.53 184.23L650.65 184.85L650.77 185.39L650.89 185.85L651.02 186.23L651.14 186.52L651.26 186.73L651.38 186.85L651.50 186.89L651.62 186.85L651.74 186.73L651.86 186.52L651.98 186.23L652.10 185.85L652.22 185.39L652.34 184.86L652.46 184.23L652.58 183.53L652.70 182.75L652.82 181.89L652.94 180.95L653.07 179.93L653.19 178.84L653.31 177.67L653.43 176.42L653.55 175.11L653.67 173.72L653.79 172.26L653.91 170.73L654.03 169.13L654.15 167.47L654.27 165.74L654.39 163.95L654.51 162.10L654.63 160.19L654.75 158.22L654.87 156.20L655.00 154.12L655.12 151.99L655.24 149.82L655.36 147.60L655.48 145.33L655.60 143.02L655.72 140.67L655.84 138.28L655.96 135.85L656.08 133.40L656.20 130.91L656.32 128.39L656.44 125.85L656.56 123.28L656.68 120.70L656.80 118.09L656.92 115.47L657.05 112.84L657.17 110.19L657.29 107.54L657.41 104.88L657.53 102.22L657.65 99.56L657.77 96.91L657.89 94.26L658.01 91.61L658.13 88.98L658.25 86.36L658.37 83.75L658.49 81.17L658.61 78.60L658.73 76.06L658.85 73.54L658.98 71.05L659.10 68.59L659.22 66.17L659.34 63.78L659.46 61.43L659.58 59.12L659.70 56.85L659.82 54.63L659.94 52.45L660.06 50.32L660.18 48.25L660.30 46.22L660.42 44.26L660.54 42.34L660.66 40.49L660.78 38.70L660.90 36.98L661.03 35.31L661.15 33.71L661.27 32.18L661.39 30.72L661.51 29.33L661.63 28.02L661.75 26.77L661.87 25.60L661.99 24.51L662.11 23.49L662.23 22.55L662.35 21.68L662.47 20.90L662.59 20.20L662.71 19.58L662.83 19.04L662.95 18.58L663.08 18.21L663.20 17.91L663.32 17.71L663.44 17.58L663.56 17.54L663.68 17.58L663.80 17.70L663.92 17.91L664.04 18.21L664.16 18.58L664.28 19.04L664.40 19.58L664.52 20.20L664.64 20.90L664.76 21.68L664.88 22.54L665.00 23.48L665.13 24.50L665.25 25.60L665.37 26.77L665.49 28.01L665.61 29.33L665.73 30.72L665.85 32.18L665.97 33.71L666.09 35.31L666.21 36.97L666.33 38.70L666.45 40.49L666.57 42.34L666.69 44.25L666.81 46.22L666.93 48.24L667.06 50.32L667.18 52.44L667.30 54.62L667.42 56.84L667.54 59.11L667.66 61.42L667.78 63.77L667.90 66.16L668.02 68.59L668.14 71.05L668.26 73.54L668.38 76.05L668.50 78.60L668.62 81.16L668.74 83.75L668.86 86.35L668.98 88.98L669.11 91.61L669.23 94.25L669.35 96.91L669.47 99.56L669.59 102.22L669.71 104.88L669.83 107.54L669.95 110.19L670.07 112.84L670.19 115.47L670.31 118.09L670.43 120.70L670.55 123.28L670.67 125.84L670.79 128.38L670.91 130.88L671.04 133.36L671.16 135.81L671.28 138.22L671.40 140.59L671.52 142.93L671.64 145.22L671.76 147.47L671.88 149.68L672.00 151.83L672.12 153.94L672.24 155.99L672.36 157.99L672.48 159.94L672.60 161.82L672.72 163.65L672.84 165.41L672.96 167.12L673.09 168.75L673.21 170.32L673.33 171.82L673.45 173.26L673.57 174.62L673.69 175.91L673.81 177.12L673.93 177.24L674.05 177.26L674.17 177.17L674.29 176.98L674.41 176.69L674.53 176.31L674.65 175.83L674.77 175.26L674.89 174.61L675.01 173.87L675.14 173.05L675.26 172.14L675.38 171.17L675.50 170.12L675.62 169.00L675.74 167.81L675.86 166.57L675.98 165.26L676.10 163.90L676.22 162.49L676.34 161.02L676.46 159.52L676.58 157.97L676.70 156.39L676.82 155.36L676.94 154.30L677.07 153.19L677.19 152.05L677.31 150.87L677.43 149.66L677.55 148.41L677.67 147.14L677.79 145.84L677.91 144.51L678.03 143.16L678.15 141.79L678.27 140.40L678.39 138.99L678.51 137.57L678.63 136.13L678.75 134.69L678.87 133.24L678.99 131.78L679.12 130.32L679.24 128.86L679.36 127.40L679.48 125.94L679.60 124.49L679.72 123.04L679.84 121.60L679.96 120.17L680.08 118.75L680.20 117.55L680.32 116.32L680.44 115.09L680.56 113.84L680.68 112.58L680.80 111.30L680.92 110.02L681.04 108.74L681.17 107.44L681.29 106.14L681.41 104.84L681.53 103.53L681.65 102.22L681.77 100.92L681.89 99.61L682.01 98.31L682.13 97.01L682.25 95.71L682.37 94.42L682.49 93.14L682.61 91.87L682.73 90.61L682.85 89.36L682.97 88.13L683.10 86.90L683.22 85.69L683.34 84.50L683.46 83.33L683.58 82.17L683.70 81.04L683.82 79.92L683.94 78.83L684.06 77.76L684.18 76.71L684.30 75.69L684.42 74.70L684.54 73.73L684.66 72.79L684.78 71.88L684.90 71.00L685.02 70.15L685.15 69.34L685.27 68.55L685.39 67.80L685.51 67.08L685.63 66.40L685.75 65.75L685.87 65.14L685.99 64.56L686.11 64.03L686.23 63.52L686.35 63.06L686.47 62.64L686.59 62.25L686.71 61.91L686.83 61.60L686.95 61.34L687.07 61.11L687.20 60.93L687.32 60.79L687.44 60.68L687.56 60.62L687.68 60.60L687.80 60.62L687.92 60.68L688.04 60.79L688.16 60.93L688.28 61.11L688.40 61.34L688.52 61.60L688.64 61.91L688.76 62.25L688.88 62.64L689.00 63.06L689.12 63.52L689.25 64.03L689.37 64.56L689.49 65.14L689.61 65.75L689.73 66.40L689.85 67.08L689.97 67.80L690.09 68.55L690.21 69.34L690.33 70.15L690.45 71.00L690.57 71.88L690.69 72.79L690.81 73.73L690.93 74.70L691.05 75.69L691.18 76.71L691.30 77.76L691.42 78.83L691.54 79.92L691.66 81.04L691.78 82.17L691.90 83.33L692.02 84.50L692.14 85.69L692.26 86.90L692.38 88.13L692.50 89.36L692.62 90.61L692.74 91.87L692.86 93.14L692.98 94.42L693.10 95.71L693.23 97.01L693.35 98.31L693.47 99.61L693.59 100.92L693.71 102.22L693.83 103.53L693.95 104.84L694.07 106.14L694.19 107.44L694.31 108.74L694.43 110.02L694.55 111.30L694.67 112.58L694.79 113.84L694.91 115.09L695.03 116.32L695.15 117.55L695.28 118.75L695.40 119.95L695.52 121.12L695.64 122.28L695.76 123.41L695.88 124.53L696.00 125.62L696.12 126.69L696.24 127.73L696.36 128.76L696.48 129.75L696.60 130.72L696.72 131.66L696.84 132.57L696.96 133.45L697.08 134.29L697.21 135.11L697.33 135.90L697.45 136.65L697.57 137.37L697.69 138.05L697.81 138.70L697.93 139.31L698.05 139.88L698.17 140.42L698.29 140.92L698.41 141.39L698.53 141.81L698.65 142.19L698.77 142.54L698.89 142.84L699.01 143.11L699.13 143.33L699.26 143.52L699.38 143.66L699.50 143.76L699.62 143.83L699.74 143.85L699.86 143.83L699.98 143.76L700.10 143.66L700.22 143.52L700.34 143.33L700.46 143.11L700.58 142.84L700.70 142.54L700.82 142.19L700.94 141.81L701.06 141.39L701.18 140.92L701.31 140.42L701.43 139.88L701.55 139.31L701.67 138.70L701.79 138.05L701.91 137.37L702.03 136.65L702.15 135.90L702.27 135.11L702.39 134.29L702.51 133.45L702.63 132.57L702.75 131.66L702.87 130.72L702.99 129.75L703.11 128.76L703.24 127.73L703.36 126.69L703.48 125.62L703.60 124.53L703.72 123.41L703.84 122.28L703.96 121.12L704.08 119.95L704.20 118.75L704.32 117.55L704.44 116.32L704.56 115.09L704.68 113.84L704.80 112.58L704.92 111.30L705.04 110.02L705.16 108.74L705.29 107.44L705.41 106.14L705.53 104.84L705.65 103.53L705.77 102.22L705.89 100.92L706.01 99.61L706.13 98.31L706.25 97.01L706.37 95.71L706.49 94.42L706.61 93.14L706.73 91.87L706.85 90.61L706.97 89.36L707.09 88.13L707.22 86.90L707.34 85.69L707.46 84.50L707.58 83.33L707.70 82.17L707.82 81.04L707.94 79.92L708.06 78.83L708.18 77.76L708.30 76.71L708.42 75.69L708.54 74.70L708.66 73.73L708.78 72.79L708.90 71.88L709.02 71.00L709.14 70.15L709.27 69.34L709.39 68.55L709.51 67.80L709.63 67.08L709.75 66.40L709.87 65.75L709.99 65.14L710.11 64.56L710.23 64.03L710.35 63.52L710.47 63.06L710.59 62.64L710.71 62.25L710.83 61.91L710.95 61.60L711.07 61.34L711.19 61.11L711.32 60.93L711.44 60.79L711.56 60.68L711.68 60.62L711.80 60.60L711.92 60.62L712.04 60.68L712.16 60.79L712.28 60.93L712.40 61.11L712.52 61.34L712.64 61.60L712.76 61.91L712.88 62.25L713.00 62.64L713.12 63.06L713.25 63.52L713.37 64.03L713.49 64.56L713.61 65.14L713.73 65.75L713.85 66.40L713.97 67.08L714.09 67.80L714.21 68.55L714.33 69.34L714.45 70.15L714.57 71.00L714.69 71.88L714.81 72.79L714.93 73.73L715.05 74.70L715.17 75.69L715.30 76.71L715.42 77.76L715.54 78.83L715.66 79.92L715.78 81.04L715.90 82.17L716.02 83.33L716.14 84.50L716.26 85.69L716.38 86.90L716.50 88.13L716.62 89.36L716.74 90.61L716.86 91.87L716.98 93.14L717.10 94.42L717.22 95.71L717.35 97.01L717.47 98.31L717.59 99.61L717.71 100.92L717.83 102.22L717.95 103.53L718.07 104.84L718.19 106.14L718.31 107.44L718.43 108.74L718.55 110.02L718.67 111.30L718.79 112.58L718.91 113.84L719.03 115.09L719.15 116.32L719.28 117.55L719.40 118.75L719.52 119.95L719.64 121.12L719.76 122.28L719.88 123.41L720.00 124.53L720.12 125.62L720.24 126.69L720.36 127.73L720.48 128.76L720.60 129.75L720.72 130.72L720.84 131.66L720.96 132.57L721.08 133.45L721.20 134.29L721.33 135.11L721.45 135.90L721.57 136.65L721.69 137.37L721.81 138.05L721.93 138.70L722.05 139.31L722.17 139.88L722.29 140.42L722.41 140.92L722.53 141.39L722.65 141.81L722.77 142.19L722.89 142.54L723.01 142.84L723.13 143.11L723.25 143.33L723.38 143.52L723.50 143.66L723.62 143.76L723.74 143.83L723.86 143.85L723.98 143.83L724.10 143.76L724.22 143.66L724.34 143.52L724.46 143.33L724.58 143.11L724.70 142.84L724.82 142.54L724.94 142.19L725.06 141.81L725.18 141.39L725.31 140.92L725.43 140.42L725.55 139.88L725.67 139.31L725.79 138.70L725.91 138.05L726.03 137.37L726.15 136.65L726.27 135.90L726.39 135.11L726.51 134.29L726.63 133.45L726.75 132.57L726.87 131.66L726.99 130.72L727.11 129.75L727.23 128.76L727.36 127.73L727.48 126.69L727.60 125.62L727.72 124.53L727.84 123.41L727.96 122.28L728.08 121.12L728.20 119.95L728.32 118.75L728.44 117.55L728.56 116.32L728.68 115.09L728.80 113.84L728.92 112.58L729.04 111.30L729.16 110.02L729.28 108.74L729.41 107.44L729.53 106.14L729.65 104.84L729.77 103.53L729.89 102.22L730.01 100.92L730.13 99.61L730.25 98.31L730.37 97.01L730.49 95.71L730.61 94.42L730.73 93.14L730.85 91.87L730.97 90.61L731.09 89.36L731.21 88.13L731.34 86.90L731.46 85.69L731.58 84.50L731.70 83.33L731.82 82.17L731.94 81.04L732.06 79.92L732.18 78.83L732.30 77.76L732.42 76.71L732.54 75.69L732.66 74.70L732.78 73.73L732.90 72.79L733.02 71.88L733.14 71.00L733.26 70.15L733.39 69.34L733.51 68.55L733.63 67.80L733.75 67.08L733.87 66.40L733.99 65.75L734.11 65.14L734.23 64.56L734.35 64.03L734.47 63.52L734.59 63.06L734.71 62.64L734.83 62.25L734.95 61.91L735.07 61.60L735.19 61.34L735.31 61.11L735.44 60.93L735.56 60.79L735.68 60.68L735.80 60.62L735.92 60.60L736.04 60.62L736.16 60.68L736.28 60.79L736.40 60.93L736.52 61.11L736.64 61.34L736.76 61.60L736.88 61.91L737.00 62.25L737.12 62.64L737.24 63.06L737.37 63.52L737.49 64.03L737.61 64.56L737.73 65.14L737.85 65.75L737.97 66.40L738.09 67.08L738.21 67.80L738.33 68.55L738.45 69.34L738.57 70.15L738.69 71.00L738.81 71.88L738.93 72.79L739.05 73.73L739.17 74.70L739.29 75.69L739.42 76.71L739.54 77.76L739.66 78.83L739.78 79.92L739.90 81.04L740.02 82.17L740.14 83.33L740.26 84.50L740.38 85.69L740.50 86.90L740.62 88.13L740.74 89.36L740.86 90.61L740.98 91.87L741.10 93.14L741.22 94.42L741.34 95.71L741.47 97.01L741.59 98.31L741.71 99.61L741.83 100.92L741.95 102.22L742.07 103.53L742.19 104.84L742.31 106.14L742.43 107.44L742.55 108.74L742.67 110.02L742.79 111.30L742.91 112.58L743.03 113.84L743.15 115.09L743.27 116.32L743.39 117.55L743.52 118.75L743.64 119.95L743.76 121.12L743.88 122.28L744.00 123.41L744.12 124.53L744.24 125.62L744.36 126.69L744.48 127.73L744.60 128.76L744.72 129.75L744.84 130.72L744.96 131.66L745.08 132.57L745.20 133.45L745.32 134.29L745.45 135.11L745.57 135.90L745.69 136.65L745.81 137.37L745.93 138.05L746.05 138.70L746.17 139.31L746.29 139.88L746.41 140.42L746.53 140.92L746.65 141.39L746.77 141.81L746.89 142.19L747.01 142.54L747.13 142.84L747.25 143.11L747.37 143.33L747.50 143.52L747.62 143.66L747.74 143.76L747.86 143.83L747.98 143.85L748.10 143.83L748.22 143.76L748.34 143.66L748.46 143.52L748.58 143.33L748.70 143.11L748.82 142.84L748.94 142.54L749.06 142.19L749.18 141.81L749.30 141.39L749.42 140.92L749.55 140.42L749.67 139.88L749.79 139.31L749.91 138.70L750.03 138.05L750.15 137.37L750.27 136.65L750.39 135.90L750.51 135.11L750.63 134.29L750.75 133.45L750.87 132.57L750.99 131.66L751.11 130.72L751.23 129.75L751.35 128.76L751.48 127.73L751.60 126.69L751.72 125.62L751.84 124.53L751.96 123.41L752.08 122.28L752.20 121.12L752.32 119.95L752.44 118.75L752.56 117.55L752.68 116.32L752.80 115.09L752.92 113.84L753.04 112.58L753.16 111.30L753.28 110.02L753.40 108.74L753.53 107.44L753.65 106.14L753.77 104.84L753.89 103.53L754.01 102.22L754.13 100.92L754.25 99.61L754.37 98.31L754.49 97.01L754.61 95.71L754.73 94.42L754.85 93.14L754.97 91.87L755.09 90.61L755.21 89.36L755.33 88.13L755.46 86.90L755.58 85.69L755.70 84.50L755.82 83.33L755.94 82.17L756.06 81.04L756.18 79.92L756.30 78.83L756.42 77.76L756.54 76.71L756.66 75.69L756.78 74.70L756.90 73.73L757.02 72.79L757.14 71.88L757.26 71.00L757.38 70.15L757.51 69.34L757.63 68.55L757.75 67.80L757.87 67.08L757.99 66.40L758.11 65.75L758.23 65.14L758.35 64.56L758.47 64.03L758.59 63.52L758.71 63.06L758.83 62.64L758.95 62.25L759.07 61.91L759.19 61.60L759.31 61.34L759.43 61.11L759.56 60.93L759.68 60.79L759.80 60.68L759.92 60.62L760.04 60.60L760.16 60.62L760.28 60.68L760.40 60.79L760.52 60.93L760.64 61.11L760.76 61.34L760.88 61.60L761.00 61.91L761.12 62.25L761.24 62.64L761.36 63.06L761.49 63.52L761.61 64.03L761.73 64.56L761.85 65.14L761.97 65.75L762.09 66.40L762.21 67.08L762.33 67.80L762.45 68.55L762.57 69.34L762.69 70.15L762.81 71.00L762.93 71.88L763.05 72.79L763.17 73.73L763.29 74.70L763.41 75.69L763.54 76.71L763.66 77.76L763.78 78.83L763.90 79.92L764.02 81.04L764.14 82.17L764.26 83.33L764.38 84.50L764.50 85.69" stroke="#FF0000" stroke-width="3.15" fill="none" stroke-linejoin="bevel" stroke-dasharray="11.3 10.7" clip-path="url(#cr)"/>
<path d="M463.00 101.50H764.50" stroke="#4a3a30" stroke-opacity="0.34" stroke-width="1" stroke-dasharray="7.8 3.4" fill="none"/>
<path d="M463.00 11.00H764.50V237.70H463.00Z" stroke="#262626" stroke-opacity="0.52" stroke-width="1.0" fill="none"/>
<path d="M523.50 237.70v-3.0M523.50 11.00v3.0M583.50 237.70v-3.0M583.50 11.00v3.0M643.50 237.70v-3.0M643.50 11.00v3.0M704.50 237.70v-3.0M704.50 11.00v3.0M463.00 192.50h3.0M764.50 192.50h-3.0M463.00 147.50h3.0M764.50 147.50h-3.0M463.00 101.50h3.0M764.50 101.50h-3.0M463.00 56.50h3.0M764.50 56.50h-3.0" stroke="#262626" stroke-opacity="0.68" stroke-width="1" fill="none"/>
<text x="462.60" y="254.80" text-anchor="middle" class="tk">0</text>
<text x="522.90" y="254.80" text-anchor="middle" class="tk">0.05</text>
<text x="583.20" y="254.80" text-anchor="middle" class="tk">0.1</text>
<text x="643.50" y="254.80" text-anchor="middle" class="tk">0.15</text>
<text x="703.80" y="254.80" text-anchor="middle" class="tk">0.2</text>
<text x="764.10" y="254.80" text-anchor="middle" class="tk">0.25</text>
<text x="458.40" y="197.76" text-anchor="end" class="tk">-1</text>
<text x="458.40" y="152.42" text-anchor="end" class="tk">-0.5</text>
<text x="458.40" y="107.08" text-anchor="end" class="tk">0</text>
<text x="458.40" y="61.74" text-anchor="end" class="tk">0.5</text>
<text x="458.40" y="16.40" text-anchor="end" class="tk">1</text>
<rect x="503.5" y="194.6" width="253.5" height="35.400000000000006" fill="#fff" stroke="#262626" stroke-opacity="0.68" stroke-width="1.0"/>
<path d="M506.4 203.9H533.6" stroke="#0473C1" stroke-width="3.15"/>
<path d="M506.4 220.5H533.6" stroke="#FF0000" stroke-width="3.15" stroke-dasharray="11 11"/>
<text x="535.8" y="207.2" class="lg" textLength="146.2" lengthAdjust="spacing">Desired fault current <tspan class="it">i</tspan><tspan class="sub" dy="2.2">1</tspan><tspan dy="-2.2">(</tspan><tspan class="it">t</tspan>)</text>
<text x="535.8" y="224.2" class="lg" textLength="217.0" lengthAdjust="spacing">Estimated fault current <tspan class="it">i</tspan><tspan class="sub" dy="2.2">1</tspan><tspan dy="-2.2">(</tspan><tspan class="it">t</tspan>) by EKF1</text>
<path d="M674.7 213.0L676.5 210.9L678.3 213.0" stroke="#000" stroke-width="0.8" fill="none"/>
<text x="569.6" y="273.8" class="lb" textLength="89.0" lengthAdjust="spacing">Time <tspan class="it">t</tspan> in s</text>
<text transform="translate(429.3 186.6) rotate(-90)" class="lb yl" textLength="124.6" lengthAdjust="spacing">Current <tspan class="it">i</tspan><tspan class="sub2" dy="3.2">1</tspan><tspan dy="-3.2"> in A</tspan></text>
</svg>
</body></html>
